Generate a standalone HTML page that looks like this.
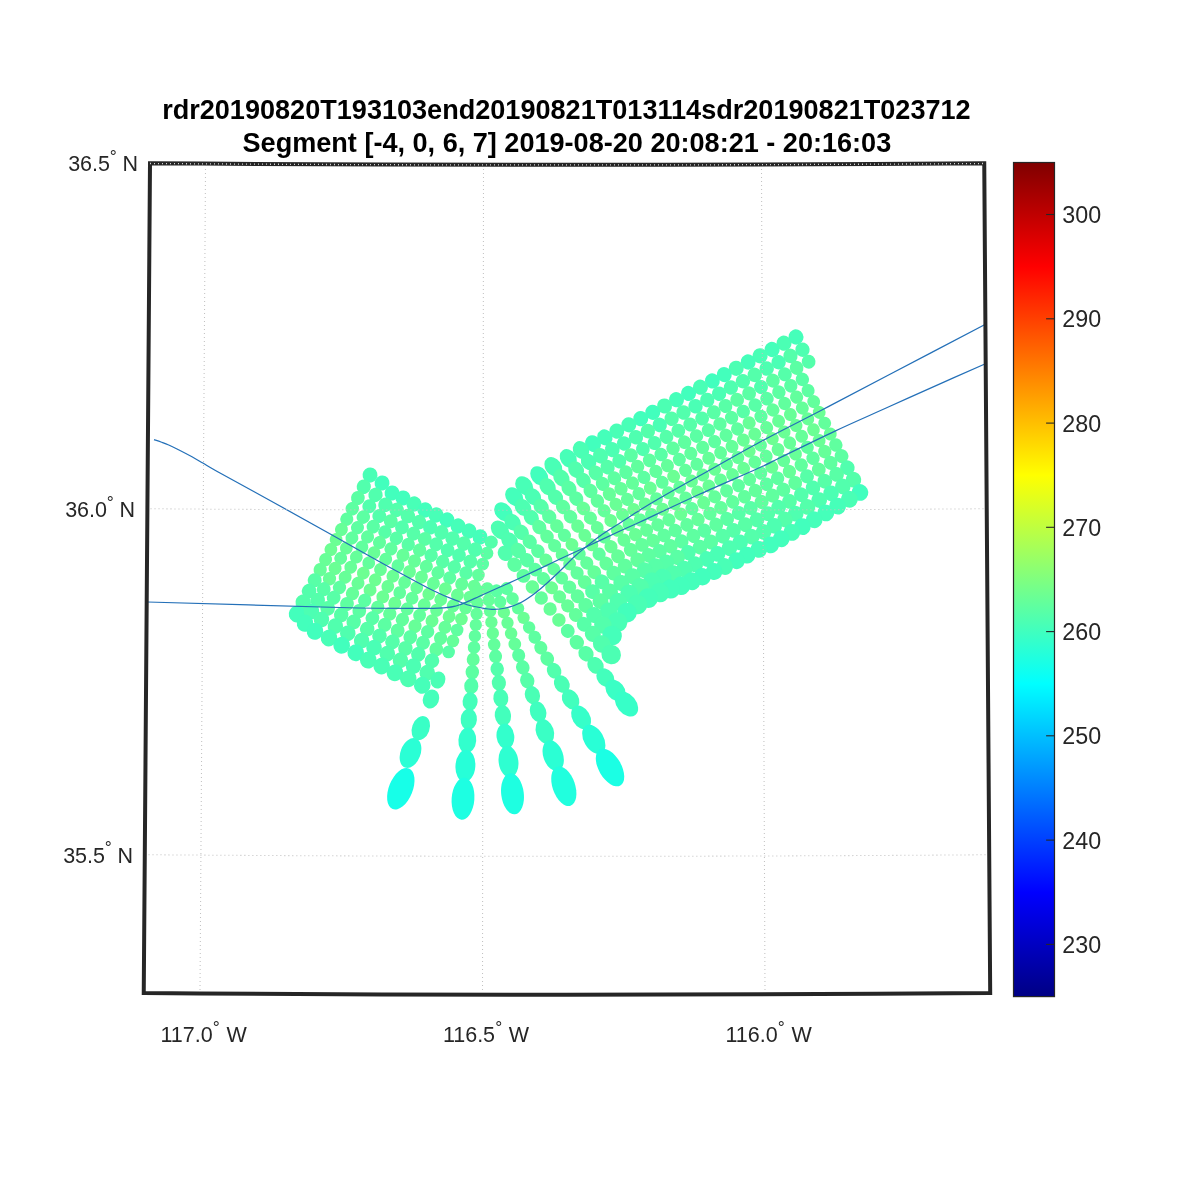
<!DOCTYPE html>
<html lang="en"><head><meta charset="utf-8"><title>Segment plot</title>
<style>html,body{margin:0;padding:0;background:#fff}body{width:1200px;height:1200px;overflow:hidden}</style></head>
<body>
<svg width="1200" height="1200" viewBox="0 0 1200 1200" style="display:block">
<rect width="1200" height="1200" fill="#fff"/>
<g id="dots">
<ellipse cx="370.0" cy="475.0" rx="7.65" ry="7.43" fill="#49ffb6" transform="rotate(117.7 370.0 475.0)"/>
<ellipse cx="363.8" cy="486.8" rx="7.34" ry="7.12" fill="#52ffad" transform="rotate(117.7 363.8 486.8)"/>
<ellipse cx="357.9" cy="498.0" rx="7.07" ry="6.87" fill="#5bffa4" transform="rotate(117.7 357.9 498.0)"/>
<ellipse cx="352.3" cy="508.7" rx="6.86" ry="6.66" fill="#5dffa2" transform="rotate(117.7 352.3 508.7)"/>
<ellipse cx="346.8" cy="519.2" rx="6.70" ry="6.51" fill="#5fffa0" transform="rotate(117.7 346.8 519.2)"/>
<ellipse cx="341.4" cy="529.4" rx="6.60" ry="6.41" fill="#67ff98" transform="rotate(117.7 341.4 529.4)"/>
<ellipse cx="336.1" cy="539.5" rx="6.55" ry="6.36" fill="#6bff94" transform="rotate(117.7 336.1 539.5)"/>
<ellipse cx="330.9" cy="549.5" rx="6.55" ry="6.36" fill="#6cff93" transform="rotate(117.7 330.9 549.5)"/>
<ellipse cx="325.6" cy="559.6" rx="6.64" ry="6.45" fill="#68ff97" transform="rotate(117.7 325.6 559.6)"/>
<ellipse cx="320.2" cy="569.8" rx="6.83" ry="6.63" fill="#66ff99" transform="rotate(117.7 320.2 569.8)"/>
<ellipse cx="314.7" cy="580.3" rx="7.11" ry="6.90" fill="#58ffa7" transform="rotate(117.7 314.7 580.3)"/>
<ellipse cx="309.1" cy="591.0" rx="7.48" ry="7.26" fill="#53ffac" transform="rotate(117.7 309.1 591.0)"/>
<ellipse cx="303.2" cy="602.2" rx="7.95" ry="7.71" fill="#53ffac" transform="rotate(117.7 303.2 602.2)"/>
<ellipse cx="297.0" cy="614.0" rx="8.50" ry="8.25" fill="#43ffbc" transform="rotate(117.7 297.0 614.0)"/>
<ellipse cx="382.0" cy="483.0" rx="7.65" ry="7.43" fill="#42ffbd" transform="rotate(118.8 382.0 483.0)"/>
<ellipse cx="375.5" cy="494.9" rx="7.34" ry="7.12" fill="#51ffae" transform="rotate(118.8 375.5 494.9)"/>
<ellipse cx="369.3" cy="506.2" rx="7.07" ry="6.87" fill="#52ffad" transform="rotate(118.8 369.3 506.2)"/>
<ellipse cx="363.3" cy="517.1" rx="6.86" ry="6.66" fill="#5cffa3" transform="rotate(118.8 363.3 517.1)"/>
<ellipse cx="357.5" cy="527.6" rx="6.70" ry="6.51" fill="#5dffa2" transform="rotate(118.8 357.5 527.6)"/>
<ellipse cx="351.9" cy="537.9" rx="6.60" ry="6.41" fill="#60ff9f" transform="rotate(118.8 351.9 537.9)"/>
<ellipse cx="346.3" cy="548.1" rx="6.55" ry="6.36" fill="#67ff98" transform="rotate(118.8 346.3 548.1)"/>
<ellipse cx="340.7" cy="558.2" rx="6.55" ry="6.36" fill="#64ff9b" transform="rotate(118.8 340.7 558.2)"/>
<ellipse cx="335.1" cy="568.4" rx="6.64" ry="6.45" fill="#6aff95" transform="rotate(118.8 335.1 568.4)"/>
<ellipse cx="329.5" cy="578.7" rx="6.83" ry="6.63" fill="#67ff98" transform="rotate(118.8 329.5 578.7)"/>
<ellipse cx="323.7" cy="589.2" rx="7.11" ry="6.90" fill="#58ffa7" transform="rotate(118.8 323.7 589.2)"/>
<ellipse cx="317.7" cy="600.1" rx="7.48" ry="7.26" fill="#54ffab" transform="rotate(118.8 317.7 600.1)"/>
<ellipse cx="311.5" cy="611.4" rx="7.95" ry="7.71" fill="#4cffb3" transform="rotate(118.8 311.5 611.4)"/>
<ellipse cx="305.0" cy="623.3" rx="8.50" ry="8.25" fill="#43ffbc" transform="rotate(118.8 305.0 623.3)"/>
<ellipse cx="392.0" cy="493.0" rx="7.65" ry="7.43" fill="#42ffbd" transform="rotate(119.1 392.0 493.0)"/>
<ellipse cx="385.5" cy="504.8" rx="7.34" ry="7.12" fill="#50ffaf" transform="rotate(119.1 385.5 504.8)"/>
<ellipse cx="379.3" cy="515.9" rx="7.07" ry="6.87" fill="#53ffac" transform="rotate(119.1 379.3 515.9)"/>
<ellipse cx="373.3" cy="526.6" rx="6.86" ry="6.66" fill="#5affa5" transform="rotate(119.1 373.3 526.6)"/>
<ellipse cx="367.5" cy="536.9" rx="6.70" ry="6.51" fill="#60ff9f" transform="rotate(119.1 367.5 536.9)"/>
<ellipse cx="361.9" cy="547.1" rx="6.60" ry="6.41" fill="#61ff9e" transform="rotate(119.1 361.9 547.1)"/>
<ellipse cx="356.3" cy="557.1" rx="6.55" ry="6.36" fill="#65ff9a" transform="rotate(119.1 356.3 557.1)"/>
<ellipse cx="350.7" cy="567.2" rx="6.55" ry="6.36" fill="#67ff98" transform="rotate(119.1 350.7 567.2)"/>
<ellipse cx="345.1" cy="577.2" rx="6.64" ry="6.45" fill="#67ff98" transform="rotate(119.1 345.1 577.2)"/>
<ellipse cx="339.5" cy="587.4" rx="6.83" ry="6.63" fill="#5effa1" transform="rotate(119.1 339.5 587.4)"/>
<ellipse cx="333.7" cy="597.7" rx="7.11" ry="6.90" fill="#58ffa7" transform="rotate(119.1 333.7 597.7)"/>
<ellipse cx="327.7" cy="608.4" rx="7.48" ry="7.26" fill="#58ffa7" transform="rotate(119.1 327.7 608.4)"/>
<ellipse cx="321.5" cy="619.5" rx="7.95" ry="7.71" fill="#4fffb0" transform="rotate(119.1 321.5 619.5)"/>
<ellipse cx="315.0" cy="631.3" rx="8.50" ry="8.25" fill="#42ffbd" transform="rotate(119.1 315.0 631.3)"/>
<ellipse cx="403.0" cy="498.0" rx="7.65" ry="7.43" fill="#42ffbd" transform="rotate(117.9 403.0 498.0)"/>
<ellipse cx="396.7" cy="509.9" rx="7.34" ry="7.12" fill="#53ffac" transform="rotate(117.9 396.7 509.9)"/>
<ellipse cx="390.8" cy="521.2" rx="7.07" ry="6.87" fill="#5affa5" transform="rotate(117.9 390.8 521.2)"/>
<ellipse cx="385.0" cy="532.0" rx="6.86" ry="6.66" fill="#57ffa8" transform="rotate(117.9 385.0 532.0)"/>
<ellipse cx="379.5" cy="542.5" rx="6.70" ry="6.51" fill="#61ff9e" transform="rotate(117.9 379.5 542.5)"/>
<ellipse cx="374.0" cy="552.8" rx="6.60" ry="6.41" fill="#68ff97" transform="rotate(117.9 374.0 552.8)"/>
<ellipse cx="368.7" cy="562.9" rx="6.55" ry="6.36" fill="#63ff9c" transform="rotate(117.9 368.7 562.9)"/>
<ellipse cx="363.3" cy="573.1" rx="6.55" ry="6.36" fill="#6dff92" transform="rotate(117.9 363.3 573.1)"/>
<ellipse cx="358.0" cy="583.2" rx="6.64" ry="6.45" fill="#68ff97" transform="rotate(117.9 358.0 583.2)"/>
<ellipse cx="352.5" cy="593.5" rx="6.83" ry="6.63" fill="#65ff9a" transform="rotate(117.9 352.5 593.5)"/>
<ellipse cx="347.0" cy="604.0" rx="7.11" ry="6.90" fill="#5effa1" transform="rotate(117.9 347.0 604.0)"/>
<ellipse cx="341.2" cy="614.8" rx="7.48" ry="7.26" fill="#58ffa7" transform="rotate(117.9 341.2 614.8)"/>
<ellipse cx="335.3" cy="626.1" rx="7.95" ry="7.71" fill="#51ffae" transform="rotate(117.9 335.3 626.1)"/>
<ellipse cx="329.0" cy="638.0" rx="8.50" ry="8.25" fill="#48ffb7" transform="rotate(117.9 329.0 638.0)"/>
<ellipse cx="414.0" cy="504.0" rx="7.65" ry="7.43" fill="#48ffb7" transform="rotate(117.1 414.0 504.0)"/>
<ellipse cx="407.9" cy="516.0" rx="7.34" ry="7.12" fill="#54ffab" transform="rotate(117.1 407.9 516.0)"/>
<ellipse cx="402.0" cy="527.4" rx="7.07" ry="6.87" fill="#53ffac" transform="rotate(117.1 402.0 527.4)"/>
<ellipse cx="396.4" cy="538.3" rx="6.86" ry="6.66" fill="#58ffa7" transform="rotate(117.1 396.4 538.3)"/>
<ellipse cx="391.0" cy="548.9" rx="6.70" ry="6.51" fill="#60ff9f" transform="rotate(117.1 391.0 548.9)"/>
<ellipse cx="385.7" cy="559.3" rx="6.60" ry="6.41" fill="#63ff9c" transform="rotate(117.1 385.7 559.3)"/>
<ellipse cx="380.5" cy="569.5" rx="6.55" ry="6.36" fill="#68ff97" transform="rotate(117.1 380.5 569.5)"/>
<ellipse cx="375.2" cy="579.8" rx="6.55" ry="6.36" fill="#6dff92" transform="rotate(117.1 375.2 579.8)"/>
<ellipse cx="370.0" cy="590.0" rx="6.64" ry="6.45" fill="#6bff94" transform="rotate(117.1 370.0 590.0)"/>
<ellipse cx="364.7" cy="600.4" rx="6.83" ry="6.63" fill="#5cffa3" transform="rotate(117.1 364.7 600.4)"/>
<ellipse cx="359.3" cy="611.0" rx="7.11" ry="6.90" fill="#5bffa4" transform="rotate(117.1 359.3 611.0)"/>
<ellipse cx="353.7" cy="621.9" rx="7.48" ry="7.26" fill="#58ffa7" transform="rotate(117.1 353.7 621.9)"/>
<ellipse cx="347.8" cy="633.3" rx="7.95" ry="7.71" fill="#50ffaf" transform="rotate(117.1 347.8 633.3)"/>
<ellipse cx="341.7" cy="645.3" rx="8.50" ry="8.25" fill="#42ffbd" transform="rotate(117.1 341.7 645.3)"/>
<ellipse cx="425.0" cy="510.0" rx="7.65" ry="7.43" fill="#43ffbc" transform="rotate(115.9 425.0 510.0)"/>
<ellipse cx="419.1" cy="522.1" rx="7.34" ry="7.12" fill="#53ffac" transform="rotate(115.9 419.1 522.1)"/>
<ellipse cx="413.5" cy="533.6" rx="7.07" ry="6.87" fill="#56ffa9" transform="rotate(115.9 413.5 533.6)"/>
<ellipse cx="408.2" cy="544.6" rx="6.86" ry="6.66" fill="#59ffa6" transform="rotate(115.9 408.2 544.6)"/>
<ellipse cx="403.0" cy="555.3" rx="6.70" ry="6.51" fill="#66ff99" transform="rotate(115.9 403.0 555.3)"/>
<ellipse cx="397.9" cy="565.8" rx="6.60" ry="6.41" fill="#61ff9e" transform="rotate(115.9 397.9 565.8)"/>
<ellipse cx="392.9" cy="576.2" rx="6.55" ry="6.36" fill="#6aff95" transform="rotate(115.9 392.9 576.2)"/>
<ellipse cx="387.8" cy="586.5" rx="6.55" ry="6.36" fill="#6aff95" transform="rotate(115.9 387.8 586.5)"/>
<ellipse cx="382.8" cy="596.9" rx="6.64" ry="6.45" fill="#6bff94" transform="rotate(115.9 382.8 596.9)"/>
<ellipse cx="377.7" cy="607.4" rx="6.83" ry="6.63" fill="#62ff9d" transform="rotate(115.9 377.7 607.4)"/>
<ellipse cx="372.5" cy="618.1" rx="7.11" ry="6.90" fill="#58ffa7" transform="rotate(115.9 372.5 618.1)"/>
<ellipse cx="367.2" cy="629.1" rx="7.48" ry="7.26" fill="#57ffa8" transform="rotate(115.9 367.2 629.1)"/>
<ellipse cx="361.6" cy="640.6" rx="7.95" ry="7.71" fill="#50ffaf" transform="rotate(115.9 361.6 640.6)"/>
<ellipse cx="355.7" cy="652.7" rx="8.50" ry="8.25" fill="#43ffbc" transform="rotate(115.9 355.7 652.7)"/>
<ellipse cx="436.0" cy="515.0" rx="7.65" ry="7.43" fill="#48ffb7" transform="rotate(115.0 436.0 515.0)"/>
<ellipse cx="430.2" cy="527.3" rx="7.34" ry="7.12" fill="#4dffb2" transform="rotate(115.0 430.2 527.3)"/>
<ellipse cx="424.8" cy="539.0" rx="7.07" ry="6.87" fill="#5affa5" transform="rotate(115.0 424.8 539.0)"/>
<ellipse cx="419.6" cy="550.2" rx="6.86" ry="6.66" fill="#60ff9f" transform="rotate(115.0 419.6 550.2)"/>
<ellipse cx="414.5" cy="561.1" rx="6.70" ry="6.51" fill="#66ff99" transform="rotate(115.0 414.5 561.1)"/>
<ellipse cx="409.5" cy="571.7" rx="6.60" ry="6.41" fill="#69ff96" transform="rotate(115.0 409.5 571.7)"/>
<ellipse cx="404.6" cy="582.3" rx="6.55" ry="6.36" fill="#65ff9a" transform="rotate(115.0 404.6 582.3)"/>
<ellipse cx="399.7" cy="592.7" rx="6.55" ry="6.36" fill="#62ff9d" transform="rotate(115.0 399.7 592.7)"/>
<ellipse cx="394.8" cy="603.3" rx="6.64" ry="6.45" fill="#6bff94" transform="rotate(115.0 394.8 603.3)"/>
<ellipse cx="389.8" cy="613.9" rx="6.83" ry="6.63" fill="#64ff9b" transform="rotate(115.0 389.8 613.9)"/>
<ellipse cx="384.7" cy="624.8" rx="7.11" ry="6.90" fill="#5cffa3" transform="rotate(115.0 384.7 624.8)"/>
<ellipse cx="379.5" cy="636.0" rx="7.48" ry="7.26" fill="#53ffac" transform="rotate(115.0 379.5 636.0)"/>
<ellipse cx="374.1" cy="647.7" rx="7.95" ry="7.71" fill="#4affb5" transform="rotate(115.0 374.1 647.7)"/>
<ellipse cx="368.3" cy="660.0" rx="8.50" ry="8.25" fill="#49ffb6" transform="rotate(115.0 368.3 660.0)"/>
<ellipse cx="447.0" cy="520.0" rx="7.65" ry="7.43" fill="#42ffbd" transform="rotate(114.1 447.0 520.0)"/>
<ellipse cx="441.4" cy="532.4" rx="7.34" ry="7.12" fill="#51ffae" transform="rotate(114.1 441.4 532.4)"/>
<ellipse cx="436.2" cy="544.2" rx="7.07" ry="6.87" fill="#54ffab" transform="rotate(114.1 436.2 544.2)"/>
<ellipse cx="431.1" cy="555.4" rx="6.86" ry="6.66" fill="#58ffa7" transform="rotate(114.1 431.1 555.4)"/>
<ellipse cx="426.3" cy="566.4" rx="6.70" ry="6.51" fill="#62ff9d" transform="rotate(114.1 426.3 566.4)"/>
<ellipse cx="421.5" cy="577.1" rx="6.60" ry="6.41" fill="#69ff96" transform="rotate(114.1 421.5 577.1)"/>
<ellipse cx="416.7" cy="587.7" rx="6.55" ry="6.36" fill="#67ff98" transform="rotate(114.1 416.7 587.7)"/>
<ellipse cx="412.0" cy="598.3" rx="6.55" ry="6.36" fill="#64ff9b" transform="rotate(114.1 412.0 598.3)"/>
<ellipse cx="407.2" cy="608.9" rx="6.64" ry="6.45" fill="#63ff9c" transform="rotate(114.1 407.2 608.9)"/>
<ellipse cx="402.4" cy="619.6" rx="6.83" ry="6.63" fill="#62ff9d" transform="rotate(114.1 402.4 619.6)"/>
<ellipse cx="397.6" cy="630.6" rx="7.11" ry="6.90" fill="#5fffa0" transform="rotate(114.1 397.6 630.6)"/>
<ellipse cx="392.5" cy="641.8" rx="7.48" ry="7.26" fill="#55ffaa" transform="rotate(114.1 392.5 641.8)"/>
<ellipse cx="387.3" cy="653.6" rx="7.95" ry="7.71" fill="#51ffae" transform="rotate(114.1 387.3 653.6)"/>
<ellipse cx="381.7" cy="666.0" rx="8.50" ry="8.25" fill="#49ffb6" transform="rotate(114.1 381.7 666.0)"/>
<ellipse cx="458.0" cy="526.0" rx="7.65" ry="7.43" fill="#46ffb9" transform="rotate(113.2 458.0 526.0)"/>
<ellipse cx="452.6" cy="538.5" rx="7.34" ry="7.12" fill="#51ffae" transform="rotate(113.2 452.6 538.5)"/>
<ellipse cx="447.6" cy="550.3" rx="7.07" ry="6.87" fill="#51ffae" transform="rotate(113.2 447.6 550.3)"/>
<ellipse cx="442.7" cy="561.6" rx="6.86" ry="6.66" fill="#58ffa7" transform="rotate(113.2 442.7 561.6)"/>
<ellipse cx="438.0" cy="572.6" rx="6.70" ry="6.51" fill="#60ff9f" transform="rotate(113.2 438.0 572.6)"/>
<ellipse cx="433.4" cy="583.4" rx="6.60" ry="6.41" fill="#67ff98" transform="rotate(113.2 433.4 583.4)"/>
<ellipse cx="428.8" cy="594.0" rx="6.55" ry="6.36" fill="#6dff92" transform="rotate(113.2 428.8 594.0)"/>
<ellipse cx="424.2" cy="604.7" rx="6.55" ry="6.36" fill="#68ff97" transform="rotate(113.2 424.2 604.7)"/>
<ellipse cx="419.6" cy="615.3" rx="6.64" ry="6.45" fill="#62ff9d" transform="rotate(113.2 419.6 615.3)"/>
<ellipse cx="415.0" cy="626.1" rx="6.83" ry="6.63" fill="#67ff98" transform="rotate(113.2 415.0 626.1)"/>
<ellipse cx="410.3" cy="637.1" rx="7.11" ry="6.90" fill="#5bffa4" transform="rotate(113.2 410.3 637.1)"/>
<ellipse cx="405.4" cy="648.4" rx="7.48" ry="7.26" fill="#58ffa7" transform="rotate(113.2 405.4 648.4)"/>
<ellipse cx="400.4" cy="660.2" rx="7.95" ry="7.71" fill="#54ffab" transform="rotate(113.2 400.4 660.2)"/>
<ellipse cx="395.0" cy="672.7" rx="8.50" ry="8.25" fill="#49ffb6" transform="rotate(113.2 395.0 672.7)"/>
<ellipse cx="469.0" cy="531.0" rx="7.65" ry="7.43" fill="#46ffb9" transform="rotate(112.3 469.0 531.0)"/>
<ellipse cx="463.8" cy="543.6" rx="7.34" ry="7.12" fill="#54ffab" transform="rotate(112.3 463.8 543.6)"/>
<ellipse cx="459.0" cy="555.4" rx="7.07" ry="6.87" fill="#51ffae" transform="rotate(112.3 459.0 555.4)"/>
<ellipse cx="454.3" cy="566.9" rx="6.86" ry="6.66" fill="#57ffa8" transform="rotate(112.3 454.3 566.9)"/>
<ellipse cx="449.7" cy="577.9" rx="6.70" ry="6.51" fill="#5dffa2" transform="rotate(112.3 449.7 577.9)"/>
<ellipse cx="445.3" cy="588.8" rx="6.60" ry="6.41" fill="#6bff94" transform="rotate(112.3 445.3 588.8)"/>
<ellipse cx="440.8" cy="599.5" rx="6.55" ry="6.36" fill="#69ff96" transform="rotate(112.3 440.8 599.5)"/>
<ellipse cx="436.5" cy="610.2" rx="6.55" ry="6.36" fill="#68ff97" transform="rotate(112.3 436.5 610.2)"/>
<ellipse cx="432.0" cy="620.9" rx="6.64" ry="6.45" fill="#6aff95" transform="rotate(112.3 432.0 620.9)"/>
<ellipse cx="427.6" cy="631.8" rx="6.83" ry="6.63" fill="#5dffa2" transform="rotate(112.3 427.6 631.8)"/>
<ellipse cx="423.0" cy="642.8" rx="7.11" ry="6.90" fill="#5affa5" transform="rotate(112.3 423.0 642.8)"/>
<ellipse cx="418.3" cy="654.3" rx="7.48" ry="7.26" fill="#52ffad" transform="rotate(112.3 418.3 654.3)"/>
<ellipse cx="413.5" cy="666.1" rx="7.95" ry="7.71" fill="#4cffb3" transform="rotate(112.3 413.5 666.1)"/>
<ellipse cx="408.3" cy="678.7" rx="8.50" ry="8.25" fill="#4dffb2" transform="rotate(112.3 408.3 678.7)"/>
<ellipse cx="480.0" cy="537.0" rx="7.65" ry="7.43" fill="#45ffba" transform="rotate(111.3 480.0 537.0)"/>
<ellipse cx="475.1" cy="549.6" rx="7.34" ry="7.12" fill="#51ffae" transform="rotate(111.3 475.1 549.6)"/>
<ellipse cx="470.4" cy="561.5" rx="7.07" ry="6.87" fill="#56ffa9" transform="rotate(111.3 470.4 561.5)"/>
<ellipse cx="466.0" cy="573.0" rx="6.86" ry="6.66" fill="#59ffa6" transform="rotate(111.3 466.0 573.0)"/>
<ellipse cx="461.7" cy="584.1" rx="6.70" ry="6.51" fill="#64ff9b" transform="rotate(111.3 461.7 584.1)"/>
<ellipse cx="457.4" cy="595.0" rx="6.60" ry="6.41" fill="#6aff95" transform="rotate(111.3 457.4 595.0)"/>
<ellipse cx="453.2" cy="605.8" rx="6.55" ry="6.36" fill="#67ff98" transform="rotate(111.3 453.2 605.8)"/>
<ellipse cx="449.1" cy="616.5" rx="6.55" ry="6.36" fill="#6bff94" transform="rotate(111.3 449.1 616.5)"/>
<ellipse cx="444.9" cy="627.3" rx="6.64" ry="6.45" fill="#66ff99" transform="rotate(111.3 444.9 627.3)"/>
<ellipse cx="440.6" cy="638.2" rx="6.83" ry="6.63" fill="#62ff9d" transform="rotate(111.3 440.6 638.2)"/>
<ellipse cx="436.3" cy="649.3" rx="7.11" ry="6.90" fill="#61ff9e" transform="rotate(111.3 436.3 649.3)"/>
<ellipse cx="431.9" cy="660.8" rx="7.48" ry="7.26" fill="#51ffae" transform="rotate(111.3 431.9 660.8)"/>
<ellipse cx="427.2" cy="672.7" rx="7.95" ry="7.71" fill="#50ffaf" transform="rotate(111.3 427.2 672.7)"/>
<ellipse cx="422.3" cy="685.3" rx="8.50" ry="8.25" fill="#46ffb9" transform="rotate(111.3 422.3 685.3)"/>
<circle cx="491.2" cy="542.2" r="6.58" fill="#54ffab"/>
<circle cx="486.9" cy="553.2" r="6.45" fill="#5bffa4"/>
<circle cx="482.7" cy="564.1" r="6.38" fill="#5bffa4"/>
<circle cx="478.4" cy="575.1" r="6.35" fill="#61ff9e"/>
<circle cx="474.2" cy="586.1" r="6.35" fill="#67ff98"/>
<circle cx="469.9" cy="597.0" r="6.35" fill="#68ff97"/>
<circle cx="465.6" cy="608.0" r="6.35" fill="#67ff98"/>
<circle cx="461.4" cy="619.0" r="6.35" fill="#6cff93"/>
<circle cx="457.1" cy="630.0" r="6.35" fill="#5fffa0"/>
<circle cx="452.9" cy="640.9" r="6.35" fill="#65ff9a"/>
<circle cx="448.6" cy="651.9" r="6.35" fill="#58ffa7"/>
<ellipse cx="400.8" cy="788.8" rx="21.88" ry="11.88" fill="#17ffe8" transform="rotate(112.0 400.8 788.8)"/>
<ellipse cx="410.5" cy="753.0" rx="15.50" ry="10.00" fill="#2affd5" transform="rotate(111.0 410.5 753.0)"/>
<ellipse cx="420.8" cy="728.2" rx="12.50" ry="8.75" fill="#39ffc6" transform="rotate(110.0 420.8 728.2)"/>
<ellipse cx="431.0" cy="699.0" rx="9.75" ry="8.00" fill="#44ffbb" transform="rotate(112.0 431.0 699.0)"/>
<ellipse cx="438.0" cy="680.0" rx="8.75" ry="7.25" fill="#4affb5" transform="rotate(112.0 438.0 680.0)"/>
<ellipse cx="478.2" cy="591.3" rx="6.55" ry="6.35" fill="#66ff99" transform="rotate(94.2 478.2 591.3)"/>
<ellipse cx="477.4" cy="602.8" rx="6.30" ry="6.22" fill="#65ff9a" transform="rotate(94.2 477.4 602.8)"/>
<circle cx="476.6" cy="613.9" r="6.17" fill="#64ff9b"/>
<circle cx="475.8" cy="624.9" r="6.16" fill="#63ff9c"/>
<ellipse cx="474.9" cy="636.1" rx="6.26" ry="6.21" fill="#60ff9f" transform="rotate(94.2 474.9 636.1)"/>
<ellipse cx="474.1" cy="647.4" rx="6.49" ry="6.32" fill="#5effa1" transform="rotate(94.2 474.1 647.4)"/>
<ellipse cx="473.2" cy="659.4" rx="6.86" ry="6.49" fill="#62ff9d" transform="rotate(94.2 473.2 659.4)"/>
<ellipse cx="472.3" cy="672.1" rx="7.40" ry="6.75" fill="#5dffa2" transform="rotate(94.2 472.3 672.1)"/>
<ellipse cx="471.3" cy="686.0" rx="8.16" ry="7.08" fill="#54ffab" transform="rotate(94.2 471.3 686.0)"/>
<ellipse cx="470.1" cy="701.5" rx="9.22" ry="7.53" fill="#45ffba" transform="rotate(94.2 470.1 701.5)"/>
<ellipse cx="468.8" cy="719.3" rx="10.72" ry="8.12" fill="#3effc1" transform="rotate(94.2 468.8 719.3)"/>
<ellipse cx="467.3" cy="740.3" rx="12.86" ry="8.89" fill="#32ffcd" transform="rotate(94.2 467.3 740.3)"/>
<ellipse cx="465.4" cy="765.9" rx="16.05" ry="9.93" fill="#27ffd8" transform="rotate(94.2 465.4 765.9)"/>
<ellipse cx="463.0" cy="798.8" rx="21.01" ry="11.37" fill="#1dffe2" transform="rotate(94.2 463.0 798.8)"/>
<ellipse cx="487.3" cy="588.7" rx="6.56" ry="6.35" fill="#63ff9c" transform="rotate(83.0 487.3 588.7)"/>
<ellipse cx="488.7" cy="600.1" rx="6.31" ry="6.23" fill="#65ff9a" transform="rotate(83.0 488.7 600.1)"/>
<circle cx="490.1" cy="611.2" r="6.17" fill="#65ff9a"/>
<circle cx="491.4" cy="622.2" r="6.16" fill="#68ff97"/>
<ellipse cx="492.8" cy="633.2" rx="6.26" ry="6.20" fill="#68ff97" transform="rotate(83.0 492.8 633.2)"/>
<ellipse cx="494.2" cy="644.6" rx="6.48" ry="6.31" fill="#63ff9c" transform="rotate(83.0 494.2 644.6)"/>
<ellipse cx="495.6" cy="656.4" rx="6.83" ry="6.48" fill="#5dffa2" transform="rotate(83.0 495.6 656.4)"/>
<ellipse cx="497.2" cy="669.0" rx="7.36" ry="6.73" fill="#53ffac" transform="rotate(83.0 497.2 669.0)"/>
<ellipse cx="498.9" cy="682.8" rx="8.11" ry="7.06" fill="#51ffae" transform="rotate(83.0 498.9 682.8)"/>
<ellipse cx="500.8" cy="698.1" rx="9.15" ry="7.50" fill="#48ffb7" transform="rotate(83.0 500.8 698.1)"/>
<ellipse cx="502.9" cy="715.6" rx="10.62" ry="8.08" fill="#43ffbc" transform="rotate(83.0 502.9 715.6)"/>
<ellipse cx="505.4" cy="736.3" rx="12.72" ry="8.85" fill="#33ffcc" transform="rotate(83.0 505.4 736.3)"/>
<ellipse cx="508.5" cy="761.6" rx="15.84" ry="9.87" fill="#2effd1" transform="rotate(83.0 508.5 761.6)"/>
<ellipse cx="512.5" cy="793.8" rx="20.68" ry="11.28" fill="#1effe1" transform="rotate(83.0 512.5 793.8)"/>
<ellipse cx="496.5" cy="590.9" rx="6.56" ry="6.35" fill="#5bffa4" transform="rotate(71.0 496.5 590.9)"/>
<ellipse cx="500.2" cy="601.8" rx="6.31" ry="6.23" fill="#60ff9f" transform="rotate(71.0 500.2 601.8)"/>
<circle cx="503.9" cy="612.4" r="6.17" fill="#6cff93"/>
<circle cx="507.5" cy="622.8" r="6.16" fill="#68ff97"/>
<ellipse cx="511.1" cy="633.4" rx="6.26" ry="6.20" fill="#68ff97" transform="rotate(71.0 511.1 633.4)"/>
<ellipse cx="514.8" cy="644.1" rx="6.48" ry="6.31" fill="#65ff9a" transform="rotate(71.0 514.8 644.1)"/>
<ellipse cx="518.7" cy="655.4" rx="6.83" ry="6.48" fill="#5cffa3" transform="rotate(71.0 518.7 655.4)"/>
<ellipse cx="522.8" cy="667.4" rx="7.36" ry="6.73" fill="#5affa5" transform="rotate(71.0 522.8 667.4)"/>
<ellipse cx="527.3" cy="680.5" rx="8.11" ry="7.06" fill="#56ffa9" transform="rotate(71.0 527.3 680.5)"/>
<ellipse cx="532.4" cy="695.1" rx="9.15" ry="7.50" fill="#4affb5" transform="rotate(71.0 532.4 695.1)"/>
<ellipse cx="538.1" cy="711.8" rx="10.62" ry="8.08" fill="#40ffbf" transform="rotate(71.0 538.1 711.8)"/>
<ellipse cx="544.9" cy="731.5" rx="12.72" ry="8.85" fill="#3affc5" transform="rotate(71.0 544.9 731.5)"/>
<ellipse cx="553.2" cy="755.6" rx="15.84" ry="9.87" fill="#2bffd4" transform="rotate(71.0 553.2 755.6)"/>
<ellipse cx="563.8" cy="786.2" rx="20.68" ry="11.28" fill="#21ffde" transform="rotate(71.0 563.8 786.2)"/>
<ellipse cx="506.7" cy="588.6" rx="6.56" ry="6.35" fill="#5dffa2" transform="rotate(60.0 506.7 588.6)"/>
<ellipse cx="512.5" cy="598.6" rx="6.31" ry="6.23" fill="#61ff9e" transform="rotate(60.0 512.5 598.6)"/>
<circle cx="518.1" cy="608.3" r="6.17" fill="#62ff9d"/>
<circle cx="523.6" cy="617.8" r="6.16" fill="#6aff95"/>
<ellipse cx="529.1" cy="627.5" rx="6.26" ry="6.20" fill="#61ff9e" transform="rotate(60.0 529.1 627.5)"/>
<ellipse cx="534.8" cy="637.3" rx="6.48" ry="6.31" fill="#5effa1" transform="rotate(60.0 534.8 637.3)"/>
<ellipse cx="540.8" cy="647.7" rx="6.83" ry="6.48" fill="#60ff9f" transform="rotate(60.0 540.8 647.7)"/>
<ellipse cx="547.2" cy="658.7" rx="7.36" ry="6.73" fill="#5dffa2" transform="rotate(60.0 547.2 658.7)"/>
<ellipse cx="554.1" cy="670.7" rx="8.11" ry="7.06" fill="#52ffad" transform="rotate(60.0 554.1 670.7)"/>
<ellipse cx="561.8" cy="684.0" rx="9.15" ry="7.50" fill="#4affb5" transform="rotate(60.0 561.8 684.0)"/>
<ellipse cx="570.6" cy="699.3" rx="10.62" ry="8.08" fill="#42ffbd" transform="rotate(60.0 570.6 699.3)"/>
<ellipse cx="581.1" cy="717.4" rx="12.72" ry="8.85" fill="#36ffc9" transform="rotate(60.0 581.1 717.4)"/>
<ellipse cx="593.8" cy="739.4" rx="15.84" ry="9.87" fill="#29ffd6" transform="rotate(60.0 593.8 739.4)"/>
<ellipse cx="610.0" cy="767.5" rx="20.68" ry="11.28" fill="#1bffe4" transform="rotate(60.0 610.0 767.5)"/>
<ellipse cx="505.3" cy="553.3" rx="8.05" ry="7.31" fill="#51ffae" transform="rotate(51.2 505.3 553.3)"/>
<ellipse cx="514.5" cy="564.7" rx="7.45" ry="7.04" fill="#5dffa2" transform="rotate(51.2 514.5 564.7)"/>
<ellipse cx="523.5" cy="575.9" rx="7.04" ry="6.84" fill="#5fffa0" transform="rotate(51.2 523.5 575.9)"/>
<ellipse cx="532.4" cy="587.0" rx="6.78" ry="6.71" fill="#68ff97" transform="rotate(51.2 532.4 587.0)"/>
<circle cx="541.3" cy="598.0" r="6.66" fill="#64ff9b"/>
<circle cx="550.1" cy="609.0" r="6.66" fill="#67ff98"/>
<ellipse cx="558.9" cy="620.0" rx="6.78" ry="6.71" fill="#69ff96" transform="rotate(51.2 558.9 620.0)"/>
<ellipse cx="567.8" cy="631.0" rx="7.04" ry="6.84" fill="#5cffa3" transform="rotate(51.2 567.8 631.0)"/>
<ellipse cx="576.8" cy="642.3" rx="7.45" ry="7.04" fill="#5effa1" transform="rotate(51.2 576.8 642.3)"/>
<ellipse cx="586.0" cy="653.7" rx="8.05" ry="7.31" fill="#58ffa7" transform="rotate(51.2 586.0 653.7)"/>
<ellipse cx="595.5" cy="665.4" rx="8.90" ry="7.69" fill="#4effb1" transform="rotate(51.2 595.5 665.4)"/>
<ellipse cx="605.3" cy="677.6" rx="10.08" ry="8.18" fill="#43ffbc" transform="rotate(51.2 605.3 677.6)"/>
<ellipse cx="615.5" cy="690.4" rx="11.75" ry="8.83" fill="#3affc5" transform="rotate(51.2 615.5 690.4)"/>
<ellipse cx="626.5" cy="704.0" rx="14.15" ry="9.69" fill="#37ffc8" transform="rotate(51.2 626.5 704.0)"/>
<ellipse cx="784.0" cy="343.2" rx="7.65" ry="7.43" fill="#4bffb4" transform="rotate(63.0 784.0 343.2)"/>
<ellipse cx="790.5" cy="355.9" rx="7.34" ry="7.12" fill="#54ffab" transform="rotate(63.0 790.5 355.9)"/>
<ellipse cx="796.6" cy="367.9" rx="7.07" ry="6.87" fill="#5bffa4" transform="rotate(63.0 796.6 367.9)"/>
<ellipse cx="802.4" cy="379.4" rx="6.86" ry="6.66" fill="#59ffa6" transform="rotate(63.0 802.4 379.4)"/>
<ellipse cx="808.1" cy="390.6" rx="6.70" ry="6.51" fill="#5dffa2" transform="rotate(63.0 808.1 390.6)"/>
<ellipse cx="813.7" cy="401.6" rx="6.60" ry="6.41" fill="#63ff9c" transform="rotate(63.0 813.7 401.6)"/>
<ellipse cx="819.2" cy="412.4" rx="6.55" ry="6.36" fill="#6aff95" transform="rotate(63.0 819.2 412.4)"/>
<ellipse cx="824.7" cy="423.2" rx="6.55" ry="6.36" fill="#63ff9c" transform="rotate(63.0 824.7 423.2)"/>
<ellipse cx="830.3" cy="434.0" rx="6.64" ry="6.45" fill="#67ff98" transform="rotate(63.0 830.3 434.0)"/>
<ellipse cx="835.8" cy="445.0" rx="6.83" ry="6.63" fill="#60ff9f" transform="rotate(63.0 835.8 445.0)"/>
<ellipse cx="841.5" cy="456.1" rx="7.11" ry="6.90" fill="#5dffa2" transform="rotate(63.0 841.5 456.1)"/>
<ellipse cx="847.4" cy="467.7" rx="7.48" ry="7.26" fill="#51ffae" transform="rotate(63.0 847.4 467.7)"/>
<ellipse cx="853.5" cy="479.7" rx="7.95" ry="7.71" fill="#54ffab" transform="rotate(63.0 853.5 479.7)"/>
<ellipse cx="860.0" cy="492.4" rx="8.50" ry="8.25" fill="#41ffbe" transform="rotate(63.0 860.0 492.4)"/>
<ellipse cx="772.1" cy="349.5" rx="7.65" ry="7.43" fill="#45ffba" transform="rotate(62.7 772.1 349.5)"/>
<ellipse cx="778.6" cy="362.2" rx="7.34" ry="7.12" fill="#4affb5" transform="rotate(62.7 778.6 362.2)"/>
<ellipse cx="784.9" cy="374.3" rx="7.07" ry="6.87" fill="#55ffaa" transform="rotate(62.7 784.9 374.3)"/>
<ellipse cx="790.8" cy="385.8" rx="6.86" ry="6.66" fill="#5bffa4" transform="rotate(62.7 790.8 385.8)"/>
<ellipse cx="796.6" cy="397.1" rx="6.70" ry="6.51" fill="#62ff9d" transform="rotate(62.7 796.6 397.1)"/>
<ellipse cx="802.3" cy="408.1" rx="6.60" ry="6.41" fill="#65ff9a" transform="rotate(62.7 802.3 408.1)"/>
<ellipse cx="807.9" cy="418.9" rx="6.55" ry="6.36" fill="#68ff97" transform="rotate(62.7 807.9 418.9)"/>
<ellipse cx="813.5" cy="429.8" rx="6.55" ry="6.36" fill="#6bff94" transform="rotate(62.7 813.5 429.8)"/>
<ellipse cx="819.1" cy="440.6" rx="6.64" ry="6.45" fill="#69ff96" transform="rotate(62.7 819.1 440.6)"/>
<ellipse cx="824.8" cy="451.6" rx="6.83" ry="6.63" fill="#66ff99" transform="rotate(62.7 824.8 451.6)"/>
<ellipse cx="830.6" cy="462.9" rx="7.11" ry="6.90" fill="#5fffa0" transform="rotate(62.7 830.6 462.9)"/>
<ellipse cx="836.6" cy="474.4" rx="7.48" ry="7.26" fill="#59ffa6" transform="rotate(62.7 836.6 474.4)"/>
<ellipse cx="842.8" cy="486.5" rx="7.95" ry="7.71" fill="#52ffad" transform="rotate(62.7 842.8 486.5)"/>
<ellipse cx="849.4" cy="499.2" rx="8.50" ry="8.25" fill="#4affb5" transform="rotate(62.7 849.4 499.2)"/>
<ellipse cx="760.1" cy="355.8" rx="7.65" ry="7.43" fill="#49ffb6" transform="rotate(62.7 760.1 355.8)"/>
<ellipse cx="766.7" cy="368.5" rx="7.34" ry="7.12" fill="#4effb1" transform="rotate(62.7 766.7 368.5)"/>
<ellipse cx="772.9" cy="380.6" rx="7.07" ry="6.87" fill="#5cffa3" transform="rotate(62.7 772.9 380.6)"/>
<ellipse cx="778.9" cy="392.2" rx="6.86" ry="6.66" fill="#5cffa3" transform="rotate(62.7 778.9 392.2)"/>
<ellipse cx="784.7" cy="403.5" rx="6.70" ry="6.51" fill="#61ff9e" transform="rotate(62.7 784.7 403.5)"/>
<ellipse cx="790.4" cy="414.6" rx="6.60" ry="6.41" fill="#68ff97" transform="rotate(62.7 790.4 414.6)"/>
<ellipse cx="796.1" cy="425.5" rx="6.55" ry="6.36" fill="#68ff97" transform="rotate(62.7 796.1 425.5)"/>
<ellipse cx="801.7" cy="436.3" rx="6.55" ry="6.36" fill="#66ff99" transform="rotate(62.7 801.7 436.3)"/>
<ellipse cx="807.3" cy="447.3" rx="6.64" ry="6.45" fill="#60ff9f" transform="rotate(62.7 807.3 447.3)"/>
<ellipse cx="813.0" cy="458.3" rx="6.83" ry="6.63" fill="#5fffa0" transform="rotate(62.7 813.0 458.3)"/>
<ellipse cx="818.8" cy="469.6" rx="7.11" ry="6.90" fill="#62ff9d" transform="rotate(62.7 818.8 469.6)"/>
<ellipse cx="824.8" cy="481.2" rx="7.48" ry="7.26" fill="#57ffa8" transform="rotate(62.7 824.8 481.2)"/>
<ellipse cx="831.0" cy="493.3" rx="7.95" ry="7.71" fill="#4cffb3" transform="rotate(62.7 831.0 493.3)"/>
<ellipse cx="837.6" cy="506.1" rx="8.50" ry="8.25" fill="#46ffb9" transform="rotate(62.7 837.6 506.1)"/>
<ellipse cx="748.2" cy="362.0" rx="7.65" ry="7.43" fill="#45ffba" transform="rotate(62.8 748.2 362.0)"/>
<ellipse cx="754.8" cy="374.9" rx="7.34" ry="7.12" fill="#54ffab" transform="rotate(62.8 754.8 374.9)"/>
<ellipse cx="761.0" cy="387.0" rx="7.07" ry="6.87" fill="#51ffae" transform="rotate(62.8 761.0 387.0)"/>
<ellipse cx="767.0" cy="398.7" rx="6.86" ry="6.66" fill="#5affa5" transform="rotate(62.8 767.0 398.7)"/>
<ellipse cx="772.9" cy="410.0" rx="6.70" ry="6.51" fill="#63ff9c" transform="rotate(62.8 772.9 410.0)"/>
<ellipse cx="778.6" cy="421.1" rx="6.60" ry="6.41" fill="#67ff98" transform="rotate(62.8 778.6 421.1)"/>
<ellipse cx="784.2" cy="432.0" rx="6.55" ry="6.36" fill="#6aff95" transform="rotate(62.8 784.2 432.0)"/>
<ellipse cx="789.8" cy="442.9" rx="6.55" ry="6.36" fill="#66ff99" transform="rotate(62.8 789.8 442.9)"/>
<ellipse cx="795.5" cy="453.9" rx="6.64" ry="6.45" fill="#67ff98" transform="rotate(62.8 795.5 453.9)"/>
<ellipse cx="801.2" cy="465.0" rx="6.83" ry="6.63" fill="#61ff9e" transform="rotate(62.8 801.2 465.0)"/>
<ellipse cx="807.0" cy="476.3" rx="7.11" ry="6.90" fill="#57ffa8" transform="rotate(62.8 807.0 476.3)"/>
<ellipse cx="813.0" cy="487.9" rx="7.48" ry="7.26" fill="#51ffae" transform="rotate(62.8 813.0 487.9)"/>
<ellipse cx="819.2" cy="500.1" rx="7.95" ry="7.71" fill="#4fffb0" transform="rotate(62.8 819.2 500.1)"/>
<ellipse cx="825.8" cy="512.9" rx="8.50" ry="8.25" fill="#45ffba" transform="rotate(62.8 825.8 512.9)"/>
<ellipse cx="736.2" cy="368.3" rx="7.65" ry="7.43" fill="#4cffb3" transform="rotate(62.8 736.2 368.3)"/>
<ellipse cx="742.9" cy="381.2" rx="7.34" ry="7.12" fill="#51ffae" transform="rotate(62.8 742.9 381.2)"/>
<ellipse cx="749.1" cy="393.4" rx="7.07" ry="6.87" fill="#5affa5" transform="rotate(62.8 749.1 393.4)"/>
<ellipse cx="755.2" cy="405.1" rx="6.86" ry="6.66" fill="#58ffa7" transform="rotate(62.8 755.2 405.1)"/>
<ellipse cx="761.0" cy="416.4" rx="6.70" ry="6.51" fill="#5dffa2" transform="rotate(62.8 761.0 416.4)"/>
<ellipse cx="766.7" cy="427.6" rx="6.60" ry="6.41" fill="#65ff9a" transform="rotate(62.8 766.7 427.6)"/>
<ellipse cx="772.4" cy="438.6" rx="6.55" ry="6.36" fill="#6dff92" transform="rotate(62.8 772.4 438.6)"/>
<ellipse cx="778.0" cy="449.5" rx="6.55" ry="6.36" fill="#67ff98" transform="rotate(62.8 778.0 449.5)"/>
<ellipse cx="783.7" cy="460.5" rx="6.64" ry="6.45" fill="#65ff9a" transform="rotate(62.8 783.7 460.5)"/>
<ellipse cx="789.4" cy="471.6" rx="6.83" ry="6.63" fill="#66ff99" transform="rotate(62.8 789.4 471.6)"/>
<ellipse cx="795.2" cy="483.0" rx="7.11" ry="6.90" fill="#61ff9e" transform="rotate(62.8 795.2 483.0)"/>
<ellipse cx="801.3" cy="494.7" rx="7.48" ry="7.26" fill="#53ffac" transform="rotate(62.8 801.3 494.7)"/>
<ellipse cx="807.5" cy="506.9" rx="7.95" ry="7.71" fill="#54ffab" transform="rotate(62.8 807.5 506.9)"/>
<ellipse cx="814.2" cy="519.8" rx="8.50" ry="8.25" fill="#45ffba" transform="rotate(62.8 814.2 519.8)"/>
<ellipse cx="724.3" cy="374.6" rx="7.65" ry="7.43" fill="#43ffbc" transform="rotate(62.8 724.3 374.6)"/>
<ellipse cx="730.9" cy="387.5" rx="7.34" ry="7.12" fill="#4fffb0" transform="rotate(62.8 730.9 387.5)"/>
<ellipse cx="737.2" cy="399.8" rx="7.07" ry="6.87" fill="#5cffa3" transform="rotate(62.8 737.2 399.8)"/>
<ellipse cx="743.3" cy="411.5" rx="6.86" ry="6.66" fill="#58ffa7" transform="rotate(62.8 743.3 411.5)"/>
<ellipse cx="749.1" cy="422.9" rx="6.70" ry="6.51" fill="#67ff98" transform="rotate(62.8 749.1 422.9)"/>
<ellipse cx="754.8" cy="434.1" rx="6.60" ry="6.41" fill="#68ff97" transform="rotate(62.8 754.8 434.1)"/>
<ellipse cx="760.5" cy="445.1" rx="6.55" ry="6.36" fill="#64ff9b" transform="rotate(62.8 760.5 445.1)"/>
<ellipse cx="766.2" cy="456.1" rx="6.55" ry="6.36" fill="#63ff9c" transform="rotate(62.8 766.2 456.1)"/>
<ellipse cx="771.8" cy="467.1" rx="6.64" ry="6.45" fill="#6aff95" transform="rotate(62.8 771.8 467.1)"/>
<ellipse cx="777.6" cy="478.3" rx="6.83" ry="6.63" fill="#5effa1" transform="rotate(62.8 777.6 478.3)"/>
<ellipse cx="783.4" cy="489.7" rx="7.11" ry="6.90" fill="#5effa1" transform="rotate(62.8 783.4 489.7)"/>
<ellipse cx="789.5" cy="501.4" rx="7.48" ry="7.26" fill="#57ffa8" transform="rotate(62.8 789.5 501.4)"/>
<ellipse cx="795.7" cy="513.7" rx="7.95" ry="7.71" fill="#4fffb0" transform="rotate(62.8 795.7 513.7)"/>
<ellipse cx="802.4" cy="526.6" rx="8.50" ry="8.25" fill="#42ffbd" transform="rotate(62.8 802.4 526.6)"/>
<ellipse cx="712.4" cy="380.9" rx="7.65" ry="7.43" fill="#41ffbe" transform="rotate(62.3 712.4 380.9)"/>
<ellipse cx="719.1" cy="393.8" rx="7.34" ry="7.12" fill="#4bffb4" transform="rotate(62.3 719.1 393.8)"/>
<ellipse cx="725.5" cy="406.0" rx="7.07" ry="6.87" fill="#58ffa7" transform="rotate(62.3 725.5 406.0)"/>
<ellipse cx="731.6" cy="417.7" rx="6.86" ry="6.66" fill="#5cffa3" transform="rotate(62.3 731.6 417.7)"/>
<ellipse cx="737.6" cy="429.0" rx="6.70" ry="6.51" fill="#5fffa0" transform="rotate(62.3 737.6 429.0)"/>
<ellipse cx="743.4" cy="440.1" rx="6.60" ry="6.41" fill="#68ff97" transform="rotate(62.3 743.4 440.1)"/>
<ellipse cx="749.2" cy="451.1" rx="6.55" ry="6.36" fill="#6bff94" transform="rotate(62.3 749.2 451.1)"/>
<ellipse cx="754.9" cy="462.1" rx="6.55" ry="6.36" fill="#64ff9b" transform="rotate(62.3 754.9 462.1)"/>
<ellipse cx="760.7" cy="473.1" rx="6.64" ry="6.45" fill="#60ff9f" transform="rotate(62.3 760.7 473.1)"/>
<ellipse cx="766.6" cy="484.2" rx="6.83" ry="6.63" fill="#5dffa2" transform="rotate(62.3 766.6 484.2)"/>
<ellipse cx="772.5" cy="495.6" rx="7.11" ry="6.90" fill="#60ff9f" transform="rotate(62.3 772.5 495.6)"/>
<ellipse cx="778.6" cy="507.3" rx="7.48" ry="7.26" fill="#53ffac" transform="rotate(62.3 778.6 507.3)"/>
<ellipse cx="785.0" cy="519.5" rx="7.95" ry="7.71" fill="#54ffab" transform="rotate(62.3 785.0 519.5)"/>
<ellipse cx="791.8" cy="532.4" rx="8.50" ry="8.25" fill="#47ffb8" transform="rotate(62.3 791.8 532.4)"/>
<ellipse cx="700.4" cy="387.2" rx="7.65" ry="7.43" fill="#49ffb6" transform="rotate(61.9 700.4 387.2)"/>
<ellipse cx="707.3" cy="400.0" rx="7.34" ry="7.12" fill="#4dffb2" transform="rotate(61.9 707.3 400.0)"/>
<ellipse cx="713.8" cy="412.2" rx="7.07" ry="6.87" fill="#59ffa6" transform="rotate(61.9 713.8 412.2)"/>
<ellipse cx="720.0" cy="424.0" rx="6.86" ry="6.66" fill="#5dffa2" transform="rotate(61.9 720.0 424.0)"/>
<ellipse cx="726.1" cy="435.3" rx="6.70" ry="6.51" fill="#60ff9f" transform="rotate(61.9 726.1 435.3)"/>
<ellipse cx="732.0" cy="446.4" rx="6.60" ry="6.41" fill="#65ff9a" transform="rotate(61.9 732.0 446.4)"/>
<ellipse cx="737.9" cy="457.5" rx="6.55" ry="6.36" fill="#64ff9b" transform="rotate(61.9 737.9 457.5)"/>
<ellipse cx="743.7" cy="468.4" rx="6.55" ry="6.36" fill="#69ff96" transform="rotate(61.9 743.7 468.4)"/>
<ellipse cx="749.6" cy="479.4" rx="6.64" ry="6.45" fill="#62ff9d" transform="rotate(61.9 749.6 479.4)"/>
<ellipse cx="755.5" cy="490.6" rx="6.83" ry="6.63" fill="#63ff9c" transform="rotate(61.9 755.5 490.6)"/>
<ellipse cx="761.6" cy="501.9" rx="7.11" ry="6.90" fill="#60ff9f" transform="rotate(61.9 761.6 501.9)"/>
<ellipse cx="767.8" cy="513.6" rx="7.48" ry="7.26" fill="#55ffaa" transform="rotate(61.9 767.8 513.6)"/>
<ellipse cx="774.3" cy="525.8" rx="7.95" ry="7.71" fill="#4effb1" transform="rotate(61.9 774.3 525.8)"/>
<ellipse cx="781.2" cy="538.7" rx="8.50" ry="8.25" fill="#43ffbc" transform="rotate(61.9 781.2 538.7)"/>
<ellipse cx="688.5" cy="393.4" rx="7.65" ry="7.43" fill="#42ffbd" transform="rotate(61.5 688.5 393.4)"/>
<ellipse cx="695.5" cy="406.3" rx="7.34" ry="7.12" fill="#4affb5" transform="rotate(61.5 695.5 406.3)"/>
<ellipse cx="702.1" cy="418.5" rx="7.07" ry="6.87" fill="#54ffab" transform="rotate(61.5 702.1 418.5)"/>
<ellipse cx="708.4" cy="430.2" rx="6.86" ry="6.66" fill="#5affa5" transform="rotate(61.5 708.4 430.2)"/>
<ellipse cx="714.6" cy="441.6" rx="6.70" ry="6.51" fill="#5effa1" transform="rotate(61.5 714.6 441.6)"/>
<ellipse cx="720.6" cy="452.7" rx="6.60" ry="6.41" fill="#63ff9c" transform="rotate(61.5 720.6 452.7)"/>
<ellipse cx="726.6" cy="463.7" rx="6.55" ry="6.36" fill="#63ff9c" transform="rotate(61.5 726.6 463.7)"/>
<ellipse cx="732.5" cy="474.6" rx="6.55" ry="6.36" fill="#66ff99" transform="rotate(61.5 732.5 474.6)"/>
<ellipse cx="738.5" cy="485.6" rx="6.64" ry="6.45" fill="#60ff9f" transform="rotate(61.5 738.5 485.6)"/>
<ellipse cx="744.5" cy="496.7" rx="6.83" ry="6.63" fill="#62ff9d" transform="rotate(61.5 744.5 496.7)"/>
<ellipse cx="750.7" cy="508.1" rx="7.11" ry="6.90" fill="#59ffa6" transform="rotate(61.5 750.7 508.1)"/>
<ellipse cx="757.0" cy="519.8" rx="7.48" ry="7.26" fill="#55ffaa" transform="rotate(61.5 757.0 519.8)"/>
<ellipse cx="763.6" cy="532.0" rx="7.95" ry="7.71" fill="#52ffad" transform="rotate(61.5 763.6 532.0)"/>
<ellipse cx="770.6" cy="544.9" rx="8.50" ry="8.25" fill="#42ffbd" transform="rotate(61.5 770.6 544.9)"/>
<ellipse cx="676.5" cy="399.7" rx="7.65" ry="7.43" fill="#45ffba" transform="rotate(61.2 676.5 399.7)"/>
<ellipse cx="683.5" cy="412.5" rx="7.34" ry="7.12" fill="#52ffad" transform="rotate(61.2 683.5 412.5)"/>
<ellipse cx="690.2" cy="424.5" rx="7.07" ry="6.87" fill="#56ffa9" transform="rotate(61.2 690.2 424.5)"/>
<ellipse cx="696.5" cy="436.1" rx="6.86" ry="6.66" fill="#5bffa4" transform="rotate(61.2 696.5 436.1)"/>
<ellipse cx="702.7" cy="447.3" rx="6.70" ry="6.51" fill="#61ff9e" transform="rotate(61.2 702.7 447.3)"/>
<ellipse cx="708.7" cy="458.3" rx="6.60" ry="6.41" fill="#66ff99" transform="rotate(61.2 708.7 458.3)"/>
<ellipse cx="714.7" cy="469.2" rx="6.55" ry="6.36" fill="#69ff96" transform="rotate(61.2 714.7 469.2)"/>
<ellipse cx="720.7" cy="480.0" rx="6.55" ry="6.36" fill="#66ff99" transform="rotate(61.2 720.7 480.0)"/>
<ellipse cx="726.6" cy="490.9" rx="6.64" ry="6.45" fill="#61ff9e" transform="rotate(61.2 726.6 490.9)"/>
<ellipse cx="732.7" cy="501.9" rx="6.83" ry="6.63" fill="#61ff9e" transform="rotate(61.2 732.7 501.9)"/>
<ellipse cx="738.8" cy="513.1" rx="7.11" ry="6.90" fill="#57ffa8" transform="rotate(61.2 738.8 513.1)"/>
<ellipse cx="745.2" cy="524.6" rx="7.48" ry="7.26" fill="#59ffa6" transform="rotate(61.2 745.2 524.6)"/>
<ellipse cx="751.8" cy="536.7" rx="7.95" ry="7.71" fill="#54ffab" transform="rotate(61.2 751.8 536.7)"/>
<ellipse cx="758.8" cy="549.4" rx="8.50" ry="8.25" fill="#46ffb9" transform="rotate(61.2 758.8 549.4)"/>
<ellipse cx="664.6" cy="406.0" rx="7.65" ry="7.43" fill="#4cffb3" transform="rotate(61.0 664.6 406.0)"/>
<ellipse cx="671.6" cy="418.7" rx="7.34" ry="7.12" fill="#54ffab" transform="rotate(61.0 671.6 418.7)"/>
<ellipse cx="678.3" cy="430.7" rx="7.07" ry="6.87" fill="#56ffa9" transform="rotate(61.0 678.3 430.7)"/>
<ellipse cx="684.6" cy="442.2" rx="6.86" ry="6.66" fill="#5fffa0" transform="rotate(61.0 684.6 442.2)"/>
<ellipse cx="690.8" cy="453.4" rx="6.70" ry="6.51" fill="#61ff9e" transform="rotate(61.0 690.8 453.4)"/>
<ellipse cx="696.9" cy="464.3" rx="6.60" ry="6.41" fill="#61ff9e" transform="rotate(61.0 696.9 464.3)"/>
<ellipse cx="702.9" cy="475.1" rx="6.55" ry="6.36" fill="#67ff98" transform="rotate(61.0 702.9 475.1)"/>
<ellipse cx="708.9" cy="485.9" rx="6.55" ry="6.36" fill="#69ff96" transform="rotate(61.0 708.9 485.9)"/>
<ellipse cx="714.8" cy="496.8" rx="6.64" ry="6.45" fill="#64ff9b" transform="rotate(61.0 714.8 496.8)"/>
<ellipse cx="720.9" cy="507.7" rx="6.83" ry="6.63" fill="#63ff9c" transform="rotate(61.0 720.9 507.7)"/>
<ellipse cx="727.1" cy="518.9" rx="7.11" ry="6.90" fill="#5bffa4" transform="rotate(61.0 727.1 518.9)"/>
<ellipse cx="733.5" cy="530.4" rx="7.48" ry="7.26" fill="#56ffa9" transform="rotate(61.0 733.5 530.4)"/>
<ellipse cx="740.1" cy="542.4" rx="7.95" ry="7.71" fill="#4dffb2" transform="rotate(61.0 740.1 542.4)"/>
<ellipse cx="747.1" cy="555.1" rx="8.50" ry="8.25" fill="#43ffbc" transform="rotate(61.0 747.1 555.1)"/>
<ellipse cx="652.7" cy="412.3" rx="7.65" ry="7.43" fill="#42ffbd" transform="rotate(60.5 652.7 412.3)"/>
<ellipse cx="659.8" cy="424.9" rx="7.34" ry="7.12" fill="#4affb5" transform="rotate(60.5 659.8 424.9)"/>
<ellipse cx="666.5" cy="436.9" rx="7.07" ry="6.87" fill="#55ffaa" transform="rotate(60.5 666.5 436.9)"/>
<ellipse cx="673.0" cy="448.3" rx="6.86" ry="6.66" fill="#5fffa0" transform="rotate(60.5 673.0 448.3)"/>
<ellipse cx="679.3" cy="459.5" rx="6.70" ry="6.51" fill="#5fffa0" transform="rotate(60.5 679.3 459.5)"/>
<ellipse cx="685.5" cy="470.4" rx="6.60" ry="6.41" fill="#63ff9c" transform="rotate(60.5 685.5 470.4)"/>
<ellipse cx="691.6" cy="481.1" rx="6.55" ry="6.36" fill="#69ff96" transform="rotate(60.5 691.6 481.1)"/>
<ellipse cx="697.6" cy="491.9" rx="6.55" ry="6.36" fill="#6aff95" transform="rotate(60.5 697.6 491.9)"/>
<ellipse cx="703.7" cy="502.7" rx="6.64" ry="6.45" fill="#69ff96" transform="rotate(60.5 703.7 502.7)"/>
<ellipse cx="709.9" cy="513.6" rx="6.83" ry="6.63" fill="#62ff9d" transform="rotate(60.5 709.9 513.6)"/>
<ellipse cx="716.2" cy="524.7" rx="7.11" ry="6.90" fill="#5fffa0" transform="rotate(60.5 716.2 524.7)"/>
<ellipse cx="722.7" cy="536.2" rx="7.48" ry="7.26" fill="#57ffa8" transform="rotate(60.5 722.7 536.2)"/>
<ellipse cx="729.4" cy="548.1" rx="7.95" ry="7.71" fill="#4effb1" transform="rotate(60.5 729.4 548.1)"/>
<ellipse cx="736.5" cy="560.7" rx="8.50" ry="8.25" fill="#43ffbc" transform="rotate(60.5 736.5 560.7)"/>
<ellipse cx="640.7" cy="418.6" rx="7.65" ry="7.43" fill="#43ffbc" transform="rotate(60.4 640.7 418.6)"/>
<ellipse cx="647.9" cy="431.1" rx="7.34" ry="7.12" fill="#54ffab" transform="rotate(60.4 647.9 431.1)"/>
<ellipse cx="654.6" cy="443.0" rx="7.07" ry="6.87" fill="#51ffae" transform="rotate(60.4 654.6 443.0)"/>
<ellipse cx="661.1" cy="454.5" rx="6.86" ry="6.66" fill="#59ffa6" transform="rotate(60.4 661.1 454.5)"/>
<ellipse cx="667.4" cy="465.6" rx="6.70" ry="6.51" fill="#64ff9b" transform="rotate(60.4 667.4 465.6)"/>
<ellipse cx="673.6" cy="476.4" rx="6.60" ry="6.41" fill="#6bff94" transform="rotate(60.4 673.6 476.4)"/>
<ellipse cx="679.7" cy="487.2" rx="6.55" ry="6.36" fill="#63ff9c" transform="rotate(60.4 679.7 487.2)"/>
<ellipse cx="685.8" cy="497.9" rx="6.55" ry="6.36" fill="#64ff9b" transform="rotate(60.4 685.8 497.9)"/>
<ellipse cx="691.9" cy="508.6" rx="6.64" ry="6.45" fill="#60ff9f" transform="rotate(60.4 691.9 508.6)"/>
<ellipse cx="698.0" cy="519.5" rx="6.83" ry="6.63" fill="#64ff9b" transform="rotate(60.4 698.0 519.5)"/>
<ellipse cx="704.3" cy="530.6" rx="7.11" ry="6.90" fill="#5bffa4" transform="rotate(60.4 704.3 530.6)"/>
<ellipse cx="710.8" cy="542.0" rx="7.48" ry="7.26" fill="#5bffa4" transform="rotate(60.4 710.8 542.0)"/>
<ellipse cx="717.6" cy="553.9" rx="7.95" ry="7.71" fill="#4affb5" transform="rotate(60.4 717.6 553.9)"/>
<ellipse cx="724.7" cy="566.5" rx="8.50" ry="8.25" fill="#49ffb6" transform="rotate(60.4 724.7 566.5)"/>
<ellipse cx="628.8" cy="424.8" rx="7.65" ry="7.43" fill="#48ffb7" transform="rotate(59.8 628.8 424.8)"/>
<ellipse cx="636.0" cy="437.3" rx="7.34" ry="7.12" fill="#4fffb0" transform="rotate(59.8 636.0 437.3)"/>
<ellipse cx="642.9" cy="449.1" rx="7.07" ry="6.87" fill="#51ffae" transform="rotate(59.8 642.9 449.1)"/>
<ellipse cx="649.5" cy="460.4" rx="6.86" ry="6.66" fill="#5effa1" transform="rotate(59.8 649.5 460.4)"/>
<ellipse cx="655.9" cy="471.4" rx="6.70" ry="6.51" fill="#62ff9d" transform="rotate(59.8 655.9 471.4)"/>
<ellipse cx="662.2" cy="482.2" rx="6.60" ry="6.41" fill="#61ff9e" transform="rotate(59.8 662.2 482.2)"/>
<ellipse cx="668.4" cy="492.8" rx="6.55" ry="6.36" fill="#64ff9b" transform="rotate(59.8 668.4 492.8)"/>
<ellipse cx="674.5" cy="503.5" rx="6.55" ry="6.36" fill="#68ff97" transform="rotate(59.8 674.5 503.5)"/>
<ellipse cx="680.7" cy="514.1" rx="6.64" ry="6.45" fill="#6aff95" transform="rotate(59.8 680.7 514.1)"/>
<ellipse cx="687.0" cy="524.9" rx="6.83" ry="6.63" fill="#61ff9e" transform="rotate(59.8 687.0 524.9)"/>
<ellipse cx="693.4" cy="535.9" rx="7.11" ry="6.90" fill="#5effa1" transform="rotate(59.8 693.4 535.9)"/>
<ellipse cx="700.0" cy="547.2" rx="7.48" ry="7.26" fill="#5bffa4" transform="rotate(59.8 700.0 547.2)"/>
<ellipse cx="706.9" cy="559.0" rx="7.95" ry="7.71" fill="#4affb5" transform="rotate(59.8 706.9 559.0)"/>
<ellipse cx="714.1" cy="571.5" rx="8.50" ry="8.25" fill="#44ffbb" transform="rotate(59.8 714.1 571.5)"/>
<ellipse cx="616.8" cy="431.1" rx="7.65" ry="7.43" fill="#49ffb6" transform="rotate(59.6 616.8 431.1)"/>
<ellipse cx="624.1" cy="443.5" rx="7.34" ry="7.12" fill="#4bffb4" transform="rotate(59.6 624.1 443.5)"/>
<ellipse cx="631.0" cy="455.2" rx="7.07" ry="6.87" fill="#5bffa4" transform="rotate(59.6 631.0 455.2)"/>
<ellipse cx="637.6" cy="466.5" rx="6.86" ry="6.66" fill="#61ff9e" transform="rotate(59.6 637.6 466.5)"/>
<ellipse cx="644.0" cy="477.4" rx="6.70" ry="6.51" fill="#5dffa2" transform="rotate(59.6 644.0 477.4)"/>
<ellipse cx="650.3" cy="488.1" rx="6.60" ry="6.41" fill="#69ff96" transform="rotate(59.6 650.3 488.1)"/>
<ellipse cx="656.5" cy="498.7" rx="6.55" ry="6.36" fill="#63ff9c" transform="rotate(59.6 656.5 498.7)"/>
<ellipse cx="662.7" cy="509.2" rx="6.55" ry="6.36" fill="#6bff94" transform="rotate(59.6 662.7 509.2)"/>
<ellipse cx="668.9" cy="519.8" rx="6.66" ry="6.46" fill="#64ff9b" transform="rotate(59.6 668.9 519.8)"/>
<ellipse cx="675.2" cy="530.5" rx="6.87" ry="6.67" fill="#60ff9f" transform="rotate(59.6 675.2 530.5)"/>
<ellipse cx="681.6" cy="541.4" rx="7.19" ry="6.98" fill="#5cffa3" transform="rotate(59.6 681.6 541.4)"/>
<ellipse cx="688.2" cy="552.6" rx="7.61" ry="7.38" fill="#51ffae" transform="rotate(59.6 688.2 552.6)"/>
<ellipse cx="695.1" cy="564.3" rx="8.13" ry="7.90" fill="#4effb1" transform="rotate(59.6 695.1 564.3)"/>
<ellipse cx="702.3" cy="576.7" rx="8.76" ry="8.51" fill="#42ffbd" transform="rotate(59.6 702.3 576.7)"/>
<ellipse cx="604.9" cy="437.4" rx="8.17" ry="7.56" fill="#45ffba" transform="rotate(58.9 604.9 437.4)"/>
<ellipse cx="612.3" cy="449.6" rx="7.70" ry="7.21" fill="#4cffb3" transform="rotate(58.9 612.3 449.6)"/>
<ellipse cx="619.3" cy="461.2" rx="7.31" ry="6.93" fill="#52ffad" transform="rotate(58.9 619.3 461.2)"/>
<ellipse cx="626.0" cy="472.3" rx="7.00" ry="6.70" fill="#5dffa2" transform="rotate(58.9 626.0 472.3)"/>
<ellipse cx="632.5" cy="483.1" rx="6.77" ry="6.53" fill="#64ff9b" transform="rotate(58.9 632.5 483.1)"/>
<ellipse cx="638.9" cy="493.7" rx="6.62" ry="6.41" fill="#62ff9d" transform="rotate(58.9 638.9 493.7)"/>
<ellipse cx="645.2" cy="504.1" rx="6.55" ry="6.36" fill="#68ff97" transform="rotate(58.9 645.2 504.1)"/>
<ellipse cx="651.5" cy="514.5" rx="6.56" ry="6.36" fill="#63ff9c" transform="rotate(58.9 651.5 514.5)"/>
<ellipse cx="657.8" cy="524.9" rx="6.67" ry="6.48" fill="#63ff9c" transform="rotate(58.9 657.8 524.9)"/>
<ellipse cx="664.1" cy="535.5" rx="6.91" ry="6.71" fill="#60ff9f" transform="rotate(58.9 664.1 535.5)"/>
<ellipse cx="670.6" cy="546.3" rx="7.26" ry="7.05" fill="#60ff9f" transform="rotate(58.9 670.6 546.3)"/>
<ellipse cx="677.4" cy="557.4" rx="7.73" ry="7.51" fill="#5affa5" transform="rotate(58.9 677.4 557.4)"/>
<ellipse cx="684.3" cy="569.0" rx="8.32" ry="8.08" fill="#4fffb0" transform="rotate(58.9 684.3 569.0)"/>
<ellipse cx="691.7" cy="581.2" rx="9.03" ry="8.76" fill="#44ffbb" transform="rotate(58.9 691.7 581.2)"/>
<ellipse cx="593.0" cy="443.7" rx="8.71" ry="7.68" fill="#42ffbd" transform="rotate(58.2 593.0 443.7)"/>
<ellipse cx="600.5" cy="455.8" rx="8.06" ry="7.30" fill="#4fffb0" transform="rotate(58.2 600.5 455.8)"/>
<ellipse cx="607.6" cy="467.2" rx="7.54" ry="6.99" fill="#55ffaa" transform="rotate(58.2 607.6 467.2)"/>
<ellipse cx="614.4" cy="478.2" rx="7.14" ry="6.74" fill="#5effa1" transform="rotate(58.2 614.4 478.2)"/>
<ellipse cx="621.0" cy="488.8" rx="6.84" ry="6.55" fill="#65ff9a" transform="rotate(58.2 621.0 488.8)"/>
<ellipse cx="627.4" cy="499.3" rx="6.65" ry="6.42" fill="#64ff9b" transform="rotate(58.2 627.4 499.3)"/>
<ellipse cx="633.8" cy="509.6" rx="6.55" ry="6.36" fill="#6dff92" transform="rotate(58.2 633.8 509.6)"/>
<ellipse cx="640.2" cy="519.9" rx="6.56" ry="6.37" fill="#63ff9c" transform="rotate(58.2 640.2 519.9)"/>
<ellipse cx="646.6" cy="530.2" rx="6.69" ry="6.49" fill="#65ff9a" transform="rotate(58.2 646.6 530.2)"/>
<ellipse cx="653.1" cy="540.6" rx="6.95" ry="6.74" fill="#64ff9b" transform="rotate(58.2 653.1 540.6)"/>
<ellipse cx="659.7" cy="551.3" rx="7.34" ry="7.12" fill="#5cffa3" transform="rotate(58.2 659.7 551.3)"/>
<ellipse cx="666.5" cy="562.2" rx="7.86" ry="7.63" fill="#56ffa9" transform="rotate(58.2 666.5 562.2)"/>
<ellipse cx="673.6" cy="573.7" rx="8.51" ry="8.26" fill="#51ffae" transform="rotate(58.2 673.6 573.7)"/>
<ellipse cx="681.1" cy="585.8" rx="9.29" ry="9.02" fill="#43ffbc" transform="rotate(58.2 681.1 585.8)"/>
<ellipse cx="581.0" cy="450.0" rx="9.25" ry="7.81" fill="#4affb5" transform="rotate(57.3 581.0 450.0)"/>
<ellipse cx="588.6" cy="461.8" rx="8.44" ry="7.40" fill="#4cffb3" transform="rotate(57.3 588.6 461.8)"/>
<ellipse cx="595.8" cy="473.0" rx="7.78" ry="7.05" fill="#57ffa8" transform="rotate(57.3 595.8 473.0)"/>
<ellipse cx="602.7" cy="483.8" rx="7.28" ry="6.77" fill="#5dffa2" transform="rotate(57.3 602.7 483.8)"/>
<ellipse cx="609.4" cy="494.2" rx="6.91" ry="6.57" fill="#66ff99" transform="rotate(57.3 609.4 494.2)"/>
<ellipse cx="616.0" cy="504.4" rx="6.67" ry="6.43" fill="#69ff96" transform="rotate(57.3 616.0 504.4)"/>
<ellipse cx="622.5" cy="514.5" rx="6.56" ry="6.36" fill="#69ff96" transform="rotate(57.3 622.5 514.5)"/>
<ellipse cx="629.0" cy="524.6" rx="6.56" ry="6.37" fill="#63ff9c" transform="rotate(57.3 629.0 524.6)"/>
<ellipse cx="635.5" cy="534.7" rx="6.70" ry="6.51" fill="#69ff96" transform="rotate(57.3 635.5 534.7)"/>
<ellipse cx="642.0" cy="544.9" rx="6.99" ry="6.78" fill="#63ff9c" transform="rotate(57.3 642.0 544.9)"/>
<ellipse cx="648.8" cy="555.4" rx="7.41" ry="7.20" fill="#5effa1" transform="rotate(57.3 648.8 555.4)"/>
<ellipse cx="655.7" cy="566.1" rx="7.98" ry="7.75" fill="#57ffa8" transform="rotate(57.3 655.7 566.1)"/>
<ellipse cx="662.9" cy="577.3" rx="8.69" ry="8.44" fill="#4bffb4" transform="rotate(57.3 662.9 577.3)"/>
<ellipse cx="670.5" cy="589.1" rx="9.55" ry="9.27" fill="#43ffbc" transform="rotate(57.3 670.5 589.1)"/>
<ellipse cx="568.3" cy="458.3" rx="9.81" ry="7.94" fill="#47ffb8" transform="rotate(55.7 568.3 458.3)"/>
<ellipse cx="576.1" cy="469.7" rx="8.82" ry="7.49" fill="#51ffae" transform="rotate(55.7 576.1 469.7)"/>
<ellipse cx="583.5" cy="480.5" rx="8.03" ry="7.11" fill="#56ffa9" transform="rotate(55.7 583.5 480.5)"/>
<ellipse cx="590.5" cy="490.9" rx="7.42" ry="6.81" fill="#5effa1" transform="rotate(55.7 590.5 490.9)"/>
<ellipse cx="597.4" cy="501.0" rx="6.98" ry="6.58" fill="#62ff9d" transform="rotate(55.7 597.4 501.0)"/>
<ellipse cx="604.1" cy="510.8" rx="6.70" ry="6.43" fill="#64ff9b" transform="rotate(55.7 604.1 510.8)"/>
<ellipse cx="610.8" cy="520.6" rx="6.56" ry="6.36" fill="#6bff94" transform="rotate(55.7 610.8 520.6)"/>
<ellipse cx="617.4" cy="530.3" rx="6.56" ry="6.37" fill="#6aff95" transform="rotate(55.7 617.4 530.3)"/>
<ellipse cx="624.0" cy="540.1" rx="6.71" ry="6.52" fill="#67ff98" transform="rotate(55.7 624.0 540.1)"/>
<ellipse cx="630.7" cy="549.9" rx="7.02" ry="6.82" fill="#64ff9b" transform="rotate(55.7 630.7 549.9)"/>
<ellipse cx="637.6" cy="560.0" rx="7.49" ry="7.27" fill="#62ff9d" transform="rotate(55.7 637.6 560.0)"/>
<ellipse cx="644.7" cy="570.4" rx="8.11" ry="7.87" fill="#56ffa9" transform="rotate(55.7 644.7 570.4)"/>
<ellipse cx="652.0" cy="581.2" rx="8.88" ry="8.62" fill="#4cffb3" transform="rotate(55.7 652.0 581.2)"/>
<ellipse cx="659.8" cy="592.6" rx="9.81" ry="9.52" fill="#47ffb8" transform="rotate(55.7 659.8 592.6)"/>
<ellipse cx="553.3" cy="466.7" rx="10.38" ry="8.06" fill="#49ffb6" transform="rotate(54.2 553.3 466.7)"/>
<ellipse cx="561.4" cy="477.9" rx="9.20" ry="7.58" fill="#54ffab" transform="rotate(54.2 561.4 477.9)"/>
<ellipse cx="569.0" cy="488.4" rx="8.27" ry="7.17" fill="#5affa5" transform="rotate(54.2 569.0 488.4)"/>
<ellipse cx="576.3" cy="498.6" rx="7.56" ry="6.85" fill="#5cffa3" transform="rotate(54.2 576.3 498.6)"/>
<ellipse cx="583.4" cy="508.4" rx="7.05" ry="6.60" fill="#67ff98" transform="rotate(54.2 583.4 508.4)"/>
<ellipse cx="590.4" cy="518.1" rx="6.72" ry="6.44" fill="#65ff9a" transform="rotate(54.2 590.4 518.1)"/>
<ellipse cx="597.3" cy="527.6" rx="6.56" ry="6.36" fill="#66ff99" transform="rotate(54.2 597.3 527.6)"/>
<ellipse cx="604.2" cy="537.1" rx="6.56" ry="6.37" fill="#63ff9c" transform="rotate(54.2 604.2 537.1)"/>
<ellipse cx="611.0" cy="546.7" rx="6.72" ry="6.53" fill="#69ff96" transform="rotate(54.2 611.0 546.7)"/>
<ellipse cx="618.0" cy="556.3" rx="7.04" ry="6.84" fill="#66ff99" transform="rotate(54.2 618.0 556.3)"/>
<ellipse cx="625.1" cy="566.2" rx="7.53" ry="7.31" fill="#61ff9e" transform="rotate(54.2 625.1 566.2)"/>
<ellipse cx="632.5" cy="576.3" rx="8.17" ry="7.93" fill="#59ffa6" transform="rotate(54.2 632.5 576.3)"/>
<ellipse cx="640.1" cy="586.9" rx="8.98" ry="8.71" fill="#53ffac" transform="rotate(54.2 640.1 586.9)"/>
<ellipse cx="648.2" cy="598.1" rx="9.94" ry="9.65" fill="#45ffba" transform="rotate(54.2 648.2 598.1)"/>
<ellipse cx="539.2" cy="475.8" rx="10.38" ry="8.06" fill="#42ffbd" transform="rotate(52.6 539.2 475.8)"/>
<ellipse cx="547.6" cy="486.7" rx="9.20" ry="7.58" fill="#50ffaf" transform="rotate(52.6 547.6 486.7)"/>
<ellipse cx="555.5" cy="497.1" rx="8.27" ry="7.17" fill="#53ffac" transform="rotate(52.6 555.5 497.1)"/>
<ellipse cx="563.1" cy="507.0" rx="7.56" ry="6.85" fill="#5fffa0" transform="rotate(52.6 563.1 507.0)"/>
<ellipse cx="570.5" cy="516.7" rx="7.05" ry="6.60" fill="#60ff9f" transform="rotate(52.6 570.5 516.7)"/>
<ellipse cx="577.7" cy="526.1" rx="6.72" ry="6.44" fill="#68ff97" transform="rotate(52.6 577.7 526.1)"/>
<ellipse cx="584.8" cy="535.5" rx="6.56" ry="6.36" fill="#69ff96" transform="rotate(52.6 584.8 535.5)"/>
<ellipse cx="591.9" cy="544.8" rx="6.56" ry="6.37" fill="#6bff94" transform="rotate(52.6 591.9 544.8)"/>
<ellipse cx="599.1" cy="554.1" rx="6.72" ry="6.53" fill="#60ff9f" transform="rotate(52.6 599.1 554.1)"/>
<ellipse cx="606.3" cy="563.6" rx="7.04" ry="6.84" fill="#64ff9b" transform="rotate(52.6 606.3 563.6)"/>
<ellipse cx="613.7" cy="573.2" rx="7.53" ry="7.31" fill="#5fffa0" transform="rotate(52.6 613.7 573.2)"/>
<ellipse cx="621.3" cy="583.1" rx="8.17" ry="7.93" fill="#58ffa7" transform="rotate(52.6 621.3 583.1)"/>
<ellipse cx="629.2" cy="593.5" rx="8.98" ry="8.71" fill="#4dffb2" transform="rotate(52.6 629.2 593.5)"/>
<ellipse cx="637.6" cy="604.4" rx="9.94" ry="9.65" fill="#4affb5" transform="rotate(52.6 637.6 604.4)"/>
<ellipse cx="524.2" cy="485.8" rx="10.38" ry="8.06" fill="#48ffb7" transform="rotate(51.0 524.2 485.8)"/>
<ellipse cx="532.9" cy="496.6" rx="9.20" ry="7.58" fill="#4bffb4" transform="rotate(51.0 532.9 496.6)"/>
<ellipse cx="541.2" cy="506.8" rx="8.27" ry="7.17" fill="#55ffaa" transform="rotate(51.0 541.2 506.8)"/>
<ellipse cx="549.2" cy="516.6" rx="7.56" ry="6.85" fill="#5dffa2" transform="rotate(51.0 549.2 516.6)"/>
<ellipse cx="556.9" cy="526.1" rx="7.05" ry="6.60" fill="#64ff9b" transform="rotate(51.0 556.9 526.1)"/>
<ellipse cx="564.4" cy="535.4" rx="6.72" ry="6.44" fill="#61ff9e" transform="rotate(51.0 564.4 535.4)"/>
<ellipse cx="571.9" cy="544.6" rx="6.56" ry="6.36" fill="#6bff94" transform="rotate(51.0 571.9 544.6)"/>
<ellipse cx="579.3" cy="553.8" rx="6.56" ry="6.37" fill="#62ff9d" transform="rotate(51.0 579.3 553.8)"/>
<ellipse cx="586.8" cy="563.0" rx="6.72" ry="6.53" fill="#63ff9c" transform="rotate(51.0 586.8 563.0)"/>
<ellipse cx="594.3" cy="572.3" rx="7.04" ry="6.84" fill="#65ff9a" transform="rotate(51.0 594.3 572.3)"/>
<ellipse cx="602.0" cy="581.8" rx="7.53" ry="7.31" fill="#57ffa8" transform="rotate(51.0 602.0 581.8)"/>
<ellipse cx="610.0" cy="591.6" rx="8.17" ry="7.93" fill="#59ffa6" transform="rotate(51.0 610.0 591.6)"/>
<ellipse cx="618.3" cy="601.8" rx="8.98" ry="8.71" fill="#50ffaf" transform="rotate(51.0 618.3 601.8)"/>
<ellipse cx="627.0" cy="612.6" rx="9.94" ry="9.65" fill="#43ffbc" transform="rotate(51.0 627.0 612.6)"/>
<ellipse cx="514.2" cy="496.7" rx="10.38" ry="8.06" fill="#44ffbb" transform="rotate(50.5 514.2 496.7)"/>
<ellipse cx="523.0" cy="507.4" rx="9.20" ry="7.58" fill="#4dffb2" transform="rotate(50.5 523.0 507.4)"/>
<ellipse cx="531.3" cy="517.4" rx="8.27" ry="7.17" fill="#51ffae" transform="rotate(50.5 531.3 517.4)"/>
<ellipse cx="539.3" cy="527.1" rx="7.56" ry="6.85" fill="#5effa1" transform="rotate(50.5 539.3 527.1)"/>
<ellipse cx="547.0" cy="536.5" rx="7.05" ry="6.60" fill="#62ff9d" transform="rotate(50.5 547.0 536.5)"/>
<ellipse cx="554.6" cy="545.7" rx="6.72" ry="6.44" fill="#62ff9d" transform="rotate(50.5 554.6 545.7)"/>
<ellipse cx="562.1" cy="554.8" rx="6.56" ry="6.36" fill="#64ff9b" transform="rotate(50.5 562.1 554.8)"/>
<ellipse cx="569.6" cy="563.9" rx="6.56" ry="6.37" fill="#65ff9a" transform="rotate(50.5 569.6 563.9)"/>
<ellipse cx="577.1" cy="573.0" rx="6.72" ry="6.53" fill="#62ff9d" transform="rotate(50.5 577.1 573.0)"/>
<ellipse cx="584.7" cy="582.2" rx="7.04" ry="6.84" fill="#64ff9b" transform="rotate(50.5 584.7 582.2)"/>
<ellipse cx="592.5" cy="591.6" rx="7.53" ry="7.31" fill="#58ffa7" transform="rotate(50.5 592.5 591.6)"/>
<ellipse cx="600.5" cy="601.3" rx="8.17" ry="7.93" fill="#5cffa3" transform="rotate(50.5 600.5 601.3)"/>
<ellipse cx="608.8" cy="611.3" rx="8.98" ry="8.71" fill="#4fffb0" transform="rotate(50.5 608.8 611.3)"/>
<ellipse cx="617.6" cy="622.0" rx="9.94" ry="9.65" fill="#49ffb6" transform="rotate(50.5 617.6 622.0)"/>
<ellipse cx="503.3" cy="511.7" rx="10.38" ry="8.06" fill="#43ffbc" transform="rotate(48.7 503.3 511.7)"/>
<ellipse cx="512.6" cy="522.2" rx="9.20" ry="7.58" fill="#4bffb4" transform="rotate(48.7 512.6 522.2)"/>
<ellipse cx="521.3" cy="532.2" rx="8.27" ry="7.17" fill="#54ffab" transform="rotate(48.7 521.3 532.2)"/>
<ellipse cx="529.7" cy="541.8" rx="7.56" ry="6.85" fill="#5affa5" transform="rotate(48.7 529.7 541.8)"/>
<ellipse cx="537.9" cy="551.1" rx="7.05" ry="6.60" fill="#5dffa2" transform="rotate(48.7 537.9 551.1)"/>
<ellipse cx="545.9" cy="560.2" rx="6.72" ry="6.44" fill="#66ff99" transform="rotate(48.7 545.9 560.2)"/>
<ellipse cx="553.8" cy="569.1" rx="6.56" ry="6.36" fill="#63ff9c" transform="rotate(48.7 553.8 569.1)"/>
<ellipse cx="561.7" cy="578.1" rx="6.56" ry="6.37" fill="#62ff9d" transform="rotate(48.7 561.7 578.1)"/>
<ellipse cx="569.6" cy="587.1" rx="6.72" ry="6.53" fill="#62ff9d" transform="rotate(48.7 569.6 587.1)"/>
<ellipse cx="577.6" cy="596.2" rx="7.04" ry="6.84" fill="#62ff9d" transform="rotate(48.7 577.6 596.2)"/>
<ellipse cx="585.7" cy="605.5" rx="7.53" ry="7.31" fill="#5fffa0" transform="rotate(48.7 585.7 605.5)"/>
<ellipse cx="594.1" cy="615.0" rx="8.17" ry="7.93" fill="#53ffac" transform="rotate(48.7 594.1 615.0)"/>
<ellipse cx="602.9" cy="625.0" rx="8.98" ry="8.71" fill="#53ffac" transform="rotate(48.7 602.9 625.0)"/>
<ellipse cx="612.1" cy="635.5" rx="9.94" ry="9.65" fill="#45ffba" transform="rotate(48.7 612.1 635.5)"/>
<ellipse cx="500.0" cy="530.0" rx="10.38" ry="8.06" fill="#4dffb2" transform="rotate(48.2 500.0 530.0)"/>
<ellipse cx="509.5" cy="540.6" rx="9.20" ry="7.58" fill="#4effb1" transform="rotate(48.2 509.5 540.6)"/>
<ellipse cx="518.4" cy="550.6" rx="8.27" ry="7.17" fill="#58ffa7" transform="rotate(48.2 518.4 550.6)"/>
<ellipse cx="527.0" cy="560.2" rx="7.56" ry="6.85" fill="#59ffa6" transform="rotate(48.2 527.0 560.2)"/>
<ellipse cx="535.3" cy="569.6" rx="7.05" ry="6.60" fill="#5dffa2" transform="rotate(48.2 535.3 569.6)"/>
<ellipse cx="543.5" cy="578.7" rx="6.72" ry="6.44" fill="#61ff9e" transform="rotate(48.2 543.5 578.7)"/>
<ellipse cx="551.6" cy="587.8" rx="6.56" ry="6.36" fill="#6cff93" transform="rotate(48.2 551.6 587.8)"/>
<ellipse cx="559.6" cy="596.8" rx="6.56" ry="6.37" fill="#68ff97" transform="rotate(48.2 559.6 596.8)"/>
<ellipse cx="567.7" cy="605.8" rx="6.72" ry="6.53" fill="#67ff98" transform="rotate(48.2 567.7 605.8)"/>
<ellipse cx="575.8" cy="615.0" rx="7.04" ry="6.84" fill="#63ff9c" transform="rotate(48.2 575.8 615.0)"/>
<ellipse cx="584.2" cy="624.3" rx="7.53" ry="7.31" fill="#57ffa8" transform="rotate(48.2 584.2 624.3)"/>
<ellipse cx="592.8" cy="633.9" rx="8.17" ry="7.93" fill="#57ffa8" transform="rotate(48.2 592.8 633.9)"/>
<ellipse cx="601.7" cy="644.0" rx="8.98" ry="8.71" fill="#51ffae" transform="rotate(48.2 601.7 644.0)"/>
<ellipse cx="611.2" cy="654.5" rx="9.94" ry="9.65" fill="#4cffb3" transform="rotate(48.2 611.2 654.5)"/>
<ellipse cx="796.0" cy="337.0" rx="7.65" ry="7.43" fill="#45ffba" transform="rotate(63.0 796.0 337.0)"/>
<ellipse cx="802.5" cy="349.7" rx="7.34" ry="7.12" fill="#4effb1" transform="rotate(63.0 802.5 349.7)"/>
<ellipse cx="808.6" cy="361.7" rx="7.07" ry="6.87" fill="#54ffab" transform="rotate(63.0 808.6 361.7)"/>
</g>
<g fill="none" stroke="#2470b8" stroke-width="1.25">
<path d="M154.0 439.7 C155.2 440.1 158.6 441.1 161.0 442.0 C163.4 442.9 165.5 443.6 168.7 445.0 C171.9 446.4 176.1 448.5 180.0 450.5 C183.9 452.5 188.1 454.7 192.0 456.8 C195.9 458.9 198.6 460.6 203.3 463.3 C208.0 466.0 207.2 465.9 220.0 473.0 C232.8 480.1 261.3 495.7 280.0 506.0 C298.7 516.3 315.3 525.7 332.0 535.0 C348.7 544.3 363.3 552.8 380.0 562.0 C396.7 571.2 418.7 583.3 432.0 590.0 C445.3 596.7 453.3 599.3 460.0 602.0 C466.7 604.7 466.7 604.8 472.0 606.0 C477.3 607.2 486.3 609.1 492.0 609.4 C497.7 609.7 501.3 609.1 506.0 608.0 C510.7 606.9 515.3 605.3 520.0 603.0 C524.7 600.7 529.7 597.2 534.0 594.0 C538.3 590.8 541.7 587.8 546.0 584.0 C550.3 580.2 555.3 575.5 560.0 571.0 C564.7 566.5 569.7 561.0 574.0 557.0 C578.3 553.0 581.7 550.5 586.0 547.0 C590.3 543.5 594.3 540.0 600.0 536.0 C605.7 532.0 613.3 527.3 620.0 523.0 C626.7 518.7 633.3 514.2 640.0 510.0 C646.7 505.8 650.0 503.8 660.0 498.0 C670.0 492.2 683.3 484.8 700.0 475.5 C716.7 466.2 740.0 452.8 760.0 442.0 C780.0 431.2 798.3 422.3 820.0 411.0 C841.7 399.7 862.4 388.8 890.0 374.3 C917.6 359.8 969.6 332.6 985.5 324.2"/>
<path d="M147.5 602.0 C179.6 602.9 294.6 606.4 340.0 607.5 C385.4 608.6 402.3 608.4 420.0 608.4 C437.7 608.4 440.0 608.0 446.0 607.6 C452.0 607.2 452.7 606.9 456.0 606.0 C459.3 605.1 462.0 604.1 466.0 602.4 C470.0 600.7 474.3 598.6 480.0 596.0 C485.7 593.4 493.3 590.0 500.0 587.0 C506.7 584.0 510.0 582.7 520.0 578.0 C530.0 573.3 549.0 564.2 560.0 559.0 C571.0 553.8 576.0 551.7 586.0 547.0 C596.0 542.3 611.0 535.2 620.0 531.0 C629.0 526.8 626.7 528.2 640.0 522.0 C653.3 515.8 680.0 503.1 700.0 494.0 C720.0 484.9 746.7 473.6 760.0 467.5 C773.3 461.4 767.5 463.8 780.0 457.7 C792.5 451.6 816.7 439.7 835.0 431.1 C853.3 422.5 871.7 414.6 890.0 406.3 C908.3 398.1 929.0 388.7 945.0 381.6 C961.0 374.5 979.2 366.5 986.0 363.5"/>
</g>
<g fill="none" stroke="#c2c2c2" stroke-width="1.05" stroke-dasharray="1.05 2.95">
<path d="M205.5 169 L200 992"/>
<path d="M483.5 169 L482.5 993"/>
<path d="M761.5 169 L765 992"/>
<path d="M150.5 508.75 Q567 511.8 986.5 508.75"/>
<path d="M148.5 854.75 Q567 857.9 988.5 854.75"/>
</g>
<path d="M150 163.35 Q567 166.3 984.25 163.35 L990.2 992.9 Q567 996.5 143.75 992.9 Z" fill="none" stroke="#262626" stroke-width="4" stroke-linejoin="miter"/>
<path d="M150 163.5 Q567 166.45 984 163.5" fill="none" stroke="#d4d4d4" stroke-width="1.3" stroke-dasharray="1 3"/>
<defs><linearGradient id="jet" x1="0" y1="1" x2="0" y2="0"><stop offset="0" stop-color="#000084"/><stop offset="0.125" stop-color="#0000ff"/><stop offset="0.375" stop-color="#00ffff"/><stop offset="0.625" stop-color="#ffff00"/><stop offset="0.875" stop-color="#ff0000"/><stop offset="1" stop-color="#800000"/></linearGradient></defs>
<rect x="1013.5" y="162.5" width="41.0" height="834.1" fill="url(#jet)" stroke="#262626" stroke-width="1.2"/>
<g font-family="'Liberation Sans', Arial, sans-serif" font-size="23.3" fill="#262626">
<path d="M1046.1 944.4 H1054.5" stroke="#262626" stroke-width="1.1"/>
<text x="1062.3" y="953.0">230</text>
<path d="M1046.1 840.1 H1054.5" stroke="#262626" stroke-width="1.1"/>
<text x="1062.3" y="848.7">240</text>
<path d="M1046.1 735.8 H1054.5" stroke="#262626" stroke-width="1.1"/>
<text x="1062.3" y="744.4">250</text>
<path d="M1046.1 631.6 H1054.5" stroke="#262626" stroke-width="1.1"/>
<text x="1062.3" y="640.2">260</text>
<path d="M1046.1 527.3 H1054.5" stroke="#262626" stroke-width="1.1"/>
<text x="1062.3" y="535.9">270</text>
<path d="M1046.1 423.1 H1054.5" stroke="#262626" stroke-width="1.1"/>
<text x="1062.3" y="431.7">280</text>
<path d="M1046.1 318.8 H1054.5" stroke="#262626" stroke-width="1.1"/>
<text x="1062.3" y="327.4">290</text>
<path d="M1046.1 214.5 H1054.5" stroke="#262626" stroke-width="1.1"/>
<text x="1062.3" y="223.1">300</text>
</g>
<g font-family="'Liberation Sans', Arial, sans-serif" font-size="21.5" fill="#262626">
<text x="110.0" y="170.7" text-anchor="end">36.5</text>
<text x="113.3" y="162.6" text-anchor="middle" font-size="17.5">°</text>
<text x="122.5" y="170.7">N</text>
<text x="107.0" y="516.7" text-anchor="end">36.0</text>
<text x="110.3" y="508.6" text-anchor="middle" font-size="17.5">°</text>
<text x="119.6" y="516.7">N</text>
<text x="105.0" y="862.5" text-anchor="end">35.5</text>
<text x="108.3" y="854.4" text-anchor="middle" font-size="17.5">°</text>
<text x="117.5" y="862.5">N</text>
<text x="212.7" y="1041.9" text-anchor="end">117.0</text>
<text x="216.3" y="1033.8" text-anchor="middle" font-size="17.5">°</text>
<text x="226.4" y="1041.9">W</text>
<text x="495.1" y="1041.9" text-anchor="end">116.5</text>
<text x="498.7" y="1033.8" text-anchor="middle" font-size="17.5">°</text>
<text x="508.8" y="1041.9">W</text>
<text x="777.7" y="1041.9" text-anchor="end">116.0</text>
<text x="781.3" y="1033.8" text-anchor="middle" font-size="17.5">°</text>
<text x="791.4" y="1041.9">W</text>
</g>
<g font-family="'Liberation Sans', Arial, sans-serif" font-size="27.08" font-weight="bold" fill="#000" text-anchor="middle">
<text x="566.4" y="118.8">rdr20190820T193103end20190821T013114sdr20190821T023712</text>
<text x="566.9" y="152">Segment [-4, 0, 6, 7] 2019-08-20 20:08:21 - 20:16:03</text>
</g>
</svg>
</body></html>
